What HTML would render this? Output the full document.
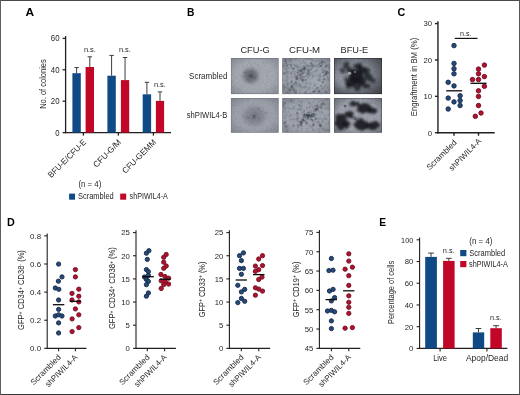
<!DOCTYPE html>
<html><head><meta charset="utf-8"><title>Figure</title>
<style>
html,body{margin:0;padding:0;background:#fff;}
body{width:520px;height:395px;overflow:hidden;}
svg{display:block;font-family:"Liberation Sans", sans-serif;}
</style></head><body>
<svg width="520" height="395" viewBox="0 0 520 395">
<rect x="0" y="0" width="520" height="395" fill="#ffffff"/>
<text x="25.4" y="16.1" font-size="11.8" text-anchor="start" fill="#000" textLength="8.6" lengthAdjust="spacingAndGlyphs" font-weight="bold">A</text>
<text x="186.9" y="16.2" font-size="11.8" text-anchor="start" fill="#000" textLength="7.4" lengthAdjust="spacingAndGlyphs" font-weight="bold">B</text>
<text x="397.4" y="16.3" font-size="11.8" text-anchor="start" fill="#000" textLength="7.8" lengthAdjust="spacingAndGlyphs" font-weight="bold">C</text>
<text x="6.9" y="226.1" font-size="11.8" text-anchor="start" fill="#000" textLength="7.8" lengthAdjust="spacingAndGlyphs" font-weight="bold">D</text>
<text x="379.3" y="226.1" font-size="11.8" text-anchor="start" fill="#000" textLength="6.8" lengthAdjust="spacingAndGlyphs" font-weight="bold">E</text>
<line x1="65.6" y1="35.99999999999999" x2="65.6" y2="133.25" stroke="#231f20" stroke-width="1.3"/>
<line x1="64.94999999999999" y1="132.6" x2="171" y2="132.6" stroke="#231f20" stroke-width="1.3"/>
<line x1="62.599999999999994" y1="38.39999999999999" x2="65.6" y2="38.39999999999999" stroke="#231f20" stroke-width="1.3"/>
<text x="59.49999999999999" y="41.39999999999999" font-size="8.4" text-anchor="end" fill="#231f20" textLength="8.7" lengthAdjust="spacingAndGlyphs">60</text>
<line x1="62.599999999999994" y1="69.79999999999998" x2="65.6" y2="69.79999999999998" stroke="#231f20" stroke-width="1.3"/>
<text x="59.49999999999999" y="72.79999999999998" font-size="8.4" text-anchor="end" fill="#231f20" textLength="8.7" lengthAdjust="spacingAndGlyphs">40</text>
<line x1="62.599999999999994" y1="101.19999999999999" x2="65.6" y2="101.19999999999999" stroke="#231f20" stroke-width="1.3"/>
<text x="59.49999999999999" y="104.19999999999999" font-size="8.4" text-anchor="end" fill="#231f20" textLength="8.7" lengthAdjust="spacingAndGlyphs">20</text>
<line x1="62.599999999999994" y1="132.6" x2="65.6" y2="132.6" stroke="#231f20" stroke-width="1.3"/>
<text x="59.49999999999999" y="135.6" font-size="8.4" text-anchor="end" fill="#231f20" textLength="4.3" lengthAdjust="spacingAndGlyphs">0</text>
<line x1="83.4" y1="132.6" x2="83.4" y2="135.6" stroke="#231f20" stroke-width="1.3"/>
<line x1="118.4" y1="132.6" x2="118.4" y2="135.6" stroke="#231f20" stroke-width="1.3"/>
<line x1="153.4" y1="132.6" x2="153.4" y2="135.6" stroke="#231f20" stroke-width="1.3"/>
<rect x="72.4" y="73.2" width="8.40" height="59.40" fill="#104a86"/>
<line x1="76.6" y1="67.6" x2="76.6" y2="73.2" stroke="#3c3c3c" stroke-width="1.0"/>
<line x1="74.39999999999999" y1="67.6" x2="78.8" y2="67.6" stroke="#3c3c3c" stroke-width="1.0"/>
<rect x="85.6" y="67.0" width="8.40" height="65.60" fill="#c10628"/>
<line x1="89.8" y1="56.8" x2="89.8" y2="67.0" stroke="#3c3c3c" stroke-width="1.0"/>
<line x1="87.6" y1="56.8" x2="92.0" y2="56.8" stroke="#3c3c3c" stroke-width="1.0"/>
<rect x="107.4" y="75.7" width="8.40" height="56.90" fill="#104a86"/>
<line x1="111.6" y1="55.4" x2="111.6" y2="75.7" stroke="#3c3c3c" stroke-width="1.0"/>
<line x1="109.39999999999999" y1="55.4" x2="113.8" y2="55.4" stroke="#3c3c3c" stroke-width="1.0"/>
<rect x="120.9" y="80.1" width="8.30" height="52.50" fill="#c10628"/>
<line x1="125.05" y1="57.5" x2="125.05" y2="80.1" stroke="#3c3c3c" stroke-width="1.0"/>
<line x1="122.85" y1="57.5" x2="127.25" y2="57.5" stroke="#3c3c3c" stroke-width="1.0"/>
<rect x="142.7" y="94.3" width="8.40" height="38.30" fill="#104a86"/>
<line x1="146.89999999999998" y1="82.3" x2="146.89999999999998" y2="94.3" stroke="#3c3c3c" stroke-width="1.0"/>
<line x1="144.7" y1="82.3" x2="149.09999999999997" y2="82.3" stroke="#3c3c3c" stroke-width="1.0"/>
<rect x="155.9" y="100.9" width="8.20" height="31.70" fill="#c10628"/>
<line x1="160.0" y1="91.9" x2="160.0" y2="100.9" stroke="#3c3c3c" stroke-width="1.0"/>
<line x1="157.8" y1="91.9" x2="162.2" y2="91.9" stroke="#3c3c3c" stroke-width="1.0"/>
<text x="89.9" y="52.0" font-size="7.6" text-anchor="middle" fill="#231f20" textLength="12" lengthAdjust="spacingAndGlyphs">n.s.</text>
<text x="124.9" y="52.3" font-size="7.6" text-anchor="middle" fill="#231f20" textLength="12" lengthAdjust="spacingAndGlyphs">n.s.</text>
<text x="159.9" y="86.9" font-size="7.6" text-anchor="middle" fill="#231f20" textLength="12" lengthAdjust="spacingAndGlyphs">n.s.</text>
<text x="46.1" y="84.0" font-size="9.2" text-anchor="middle" fill="#231f20" textLength="49.6" lengthAdjust="spacingAndGlyphs" transform="rotate(-90 46.1 84.0)">No. of colonies</text>
<text x="86.7" y="142.8" font-size="8.4" text-anchor="end" fill="#231f20" textLength="50" lengthAdjust="spacingAndGlyphs" transform="rotate(-45 86.7 142.8)">BFU-E/CFU-E</text>
<text x="121.7" y="142.8" font-size="8.4" text-anchor="end" fill="#231f20" textLength="35.5" lengthAdjust="spacingAndGlyphs" transform="rotate(-45 121.7 142.8)">CFU-G/M</text>
<text x="156.7" y="142.8" font-size="8.4" text-anchor="end" fill="#231f20" textLength="44" lengthAdjust="spacingAndGlyphs" transform="rotate(-45 156.7 142.8)">CFU-GEMM</text>
<text x="78.4" y="187.0" font-size="8.5" text-anchor="start" fill="#231f20" textLength="22.9" lengthAdjust="spacingAndGlyphs">(n = 4)</text>
<rect x="69.1" y="193.6" width="5.9" height="6.1" fill="#104a86"/>
<text x="78.0" y="199.4" font-size="8.6" text-anchor="start" fill="#231f20" textLength="35.7" lengthAdjust="spacingAndGlyphs">Scrambled</text>
<rect x="120.2" y="193.6" width="6.0" height="6.1" fill="#c10628"/>
<text x="129.6" y="199.4" font-size="8.6" text-anchor="start" fill="#231f20" textLength="38.2" lengthAdjust="spacingAndGlyphs">shPIWIL4-A</text>
<text x="255.1" y="52.9" font-size="9.2" text-anchor="middle" fill="#231f20" textLength="29.3" lengthAdjust="spacingAndGlyphs">CFU-G</text>
<text x="304.6" y="52.9" font-size="9.2" text-anchor="middle" fill="#231f20" textLength="31.1" lengthAdjust="spacingAndGlyphs">CFU-M</text>
<text x="354.3" y="52.9" font-size="9.2" text-anchor="middle" fill="#231f20" textLength="27.5" lengthAdjust="spacingAndGlyphs">BFU-E</text>
<text x="227.4" y="78.5" font-size="8.4" text-anchor="end" fill="#231f20" textLength="38.3" lengthAdjust="spacingAndGlyphs">Scrambled</text>
<text x="227.4" y="118.2" font-size="8.4" text-anchor="end" fill="#231f20" textLength="40.6" lengthAdjust="spacingAndGlyphs">shPIWIL4-B</text>
<defs>
<filter id="nz1" x="0" y="0" width="100%" height="100%" color-interpolation-filters="sRGB"><feTurbulence type="fractalNoise" baseFrequency="0.45" numOctaves="2" seed="4"/><feColorMatrix type="matrix" values="0 0 0 0 0.30  0 0 0 0 0.32  0 0 0 0 0.36  1.6 0 0 0 -0.62"/></filter>
<filter id="nz2" x="0" y="0" width="100%" height="100%" color-interpolation-filters="sRGB"><feTurbulence type="fractalNoise" baseFrequency="0.28" numOctaves="3" seed="11"/><feColorMatrix type="matrix" values="0 0 0 0 0.25  0 0 0 0 0.27  0 0 0 0 0.32  2.0 0 0 0 -0.88"/></filter>
<filter id="nz3" x="0" y="0" width="100%" height="100%" color-interpolation-filters="sRGB"><feTurbulence type="fractalNoise" baseFrequency="0.28" numOctaves="3" seed="23"/><feColorMatrix type="matrix" values="0 0 0 0 0.25  0 0 0 0 0.27  0 0 0 0 0.32  2.0 0 0 0 -0.92"/></filter>
<filter id="bl1" x="-30%" y="-30%" width="160%" height="160%"><feGaussianBlur stdDeviation="0.9"/></filter>
<filter id="bld" x="-20%" y="-20%" width="140%" height="140%"><feTurbulence type="fractalNoise" baseFrequency="0.22" numOctaves="2" seed="5" result="t"/><feDisplacementMap in="SourceGraphic" in2="t" scale="4.5" xChannelSelector="R" yChannelSelector="G"/><feGaussianBlur stdDeviation="1.0"/></filter>
<filter id="bl2" x="-30%" y="-30%" width="160%" height="160%"><feGaussianBlur stdDeviation="0.5"/></filter>
<filter id="bl3" x="-30%" y="-30%" width="160%" height="160%"><feGaussianBlur stdDeviation="2.2"/></filter>
<radialGradient id="vg" cx="0.5" cy="0.5" r="0.75"><stop offset="0.55" stop-color="#000" stop-opacity="0"/><stop offset="1" stop-color="#10131a" stop-opacity="0.42"/></radialGradient>
<radialGradient id="vgd" cx="0.42" cy="0.45" r="0.8"><stop offset="0.45" stop-color="#000" stop-opacity="0"/><stop offset="1" stop-color="#05070c" stop-opacity="0.6"/></radialGradient>
<radialGradient id="bg1" cx="0.5" cy="0.5" r="0.5"><stop offset="0" stop-color="#565a63" stop-opacity="0.95"/><stop offset="0.55" stop-color="#62666f" stop-opacity="0.7"/><stop offset="1" stop-color="#7a7e87" stop-opacity="0"/></radialGradient>
<radialGradient id="bg2" cx="0.5" cy="0.5" r="0.5"><stop offset="0" stop-color="#656a74" stop-opacity="0.7"/><stop offset="0.6" stop-color="#6c717b" stop-opacity="0.45"/><stop offset="1" stop-color="#7a7e87" stop-opacity="0"/></radialGradient>
<clipPath id="c00"><rect x="230.8" y="58.0" width="47.90" height="36.20"/></clipPath>
<clipPath id="c01"><rect x="230.8" y="98.1" width="47.90" height="34.70"/></clipPath>
<clipPath id="c10"><rect x="282.2" y="58.0" width="48.10" height="36.20"/></clipPath>
<clipPath id="c11"><rect x="282.2" y="98.1" width="48.10" height="34.70"/></clipPath>
<clipPath id="c20"><rect x="334.0" y="58.0" width="48.00" height="36.20"/></clipPath>
<clipPath id="c21"><rect x="334.0" y="98.1" width="48.00" height="34.70"/></clipPath>
</defs>
<g clip-path="url(#c00)">
<rect x="230.8" y="58.0" width="47.90" height="36.20" fill="#a4a8b1"/>
<rect x="230.8" y="58.0" width="47.90" height="36.20" fill="none" filter="url(#nz1)" opacity="0.18" style="fill:#000"/>
<ellipse cx="250.8" cy="75.8" rx="10.5" ry="10" fill="url(#bg1)"/>
<g filter="url(#bl2)">
<circle cx="249.3" cy="78.8" r="0.54" fill="#4a4e57" opacity="0.28"/>
<circle cx="247.7" cy="79.3" r="0.53" fill="#4a4e57" opacity="0.28"/>
<circle cx="252.2" cy="76.1" r="0.55" fill="#4a4e57" opacity="0.26"/>
<circle cx="251.1" cy="75.3" r="0.56" fill="#4a4e57" opacity="0.21"/>
<circle cx="247.3" cy="72.2" r="0.70" fill="#4a4e57" opacity="0.39"/>
<circle cx="252.4" cy="76.3" r="0.93" fill="#4a4e57" opacity="0.22"/>
<circle cx="252.4" cy="77.8" r="0.91" fill="#4a4e57" opacity="0.20"/>
<circle cx="248.8" cy="74.7" r="0.82" fill="#4a4e57" opacity="0.24"/>
<circle cx="249.6" cy="75.4" r="0.60" fill="#4a4e57" opacity="0.32"/>
<circle cx="250.3" cy="76.0" r="0.66" fill="#4a4e57" opacity="0.30"/>
<circle cx="248.7" cy="76.4" r="0.85" fill="#4a4e57" opacity="0.21"/>
<circle cx="244.8" cy="72.7" r="0.76" fill="#4a4e57" opacity="0.37"/>
<circle cx="250.5" cy="73.2" r="0.56" fill="#4a4e57" opacity="0.25"/>
<circle cx="251.3" cy="64.9" r="0.58" fill="#4a4e57" opacity="0.27"/>
<circle cx="254.0" cy="76.6" r="0.79" fill="#4a4e57" opacity="0.37"/>
<circle cx="248.5" cy="81.3" r="0.85" fill="#4a4e57" opacity="0.30"/>
<circle cx="244.3" cy="72.3" r="0.97" fill="#4a4e57" opacity="0.27"/>
<circle cx="249.7" cy="74.0" r="0.53" fill="#4a4e57" opacity="0.33"/>
<circle cx="246.3" cy="69.9" r="0.64" fill="#4a4e57" opacity="0.25"/>
<circle cx="250.6" cy="75.5" r="0.51" fill="#4a4e57" opacity="0.27"/>
<circle cx="251.3" cy="76.7" r="0.88" fill="#4a4e57" opacity="0.18"/>
<circle cx="250.8" cy="76.7" r="0.70" fill="#4a4e57" opacity="0.37"/>
<circle cx="255.0" cy="78.1" r="0.94" fill="#4a4e57" opacity="0.35"/>
<circle cx="251.8" cy="74.6" r="0.64" fill="#4a4e57" opacity="0.25"/>
<circle cx="246.1" cy="81.6" r="0.58" fill="#4a4e57" opacity="0.19"/>
<circle cx="251.6" cy="82.4" r="0.62" fill="#4a4e57" opacity="0.27"/>
<circle cx="250.8" cy="75.8" r="0.71" fill="#4a4e57" opacity="0.24"/>
<circle cx="250.5" cy="75.7" r="0.98" fill="#4a4e57" opacity="0.32"/>
<circle cx="246.4" cy="75.4" r="0.53" fill="#4a4e57" opacity="0.37"/>
<circle cx="251.6" cy="71.8" r="0.94" fill="#4a4e57" opacity="0.35"/>
<circle cx="249.6" cy="76.7" r="0.82" fill="#4a4e57" opacity="0.17"/>
<circle cx="251.8" cy="76.3" r="0.60" fill="#4a4e57" opacity="0.19"/>
<circle cx="250.8" cy="75.9" r="0.58" fill="#4a4e57" opacity="0.18"/>
<circle cx="250.8" cy="75.8" r="0.51" fill="#4a4e57" opacity="0.37"/>
<circle cx="249.4" cy="74.6" r="0.67" fill="#4a4e57" opacity="0.24"/>
<circle cx="252.6" cy="77.5" r="0.92" fill="#4a4e57" opacity="0.40"/>
<circle cx="249.2" cy="76.2" r="0.55" fill="#4a4e57" opacity="0.24"/>
<circle cx="250.8" cy="76.0" r="0.91" fill="#4a4e57" opacity="0.19"/>
<circle cx="255.4" cy="76.5" r="0.57" fill="#4a4e57" opacity="0.29"/>
<circle cx="252.3" cy="76.1" r="0.76" fill="#4a4e57" opacity="0.39"/>
</g>
<rect x="230.8" y="58.0" width="47.90" height="36.20" fill="url(#vg)" opacity="0.55"/>
<rect x="231.20000000000002" y="58.4" width="47.10" height="35.40" fill="none" stroke="#6f737c" stroke-width="0.8" opacity="0.8"/>
</g>
<g clip-path="url(#c01)">
<rect x="230.8" y="98.1" width="47.90" height="34.70" fill="#9da1ab"/>
<rect x="230.8" y="98.1" width="47.90" height="34.70" fill="none" filter="url(#nz1)" opacity="0.18" style="fill:#000"/>
<ellipse cx="254.5" cy="116.0" rx="14" ry="12" fill="url(#bg2)"/>
<g filter="url(#bl2)">
<circle cx="255.4" cy="115.1" r="0.65" fill="#4a4e57" opacity="0.16"/>
<circle cx="255.1" cy="112.6" r="0.71" fill="#4a4e57" opacity="0.30"/>
<circle cx="253.7" cy="117.3" r="0.89" fill="#4a4e57" opacity="0.32"/>
<circle cx="257.9" cy="108.1" r="0.83" fill="#4a4e57" opacity="0.29"/>
<circle cx="255.2" cy="120.3" r="0.51" fill="#4a4e57" opacity="0.13"/>
<circle cx="254.4" cy="116.5" r="0.60" fill="#4a4e57" opacity="0.28"/>
<circle cx="266.3" cy="113.2" r="0.90" fill="#4a4e57" opacity="0.34"/>
<circle cx="251.7" cy="118.7" r="0.59" fill="#4a4e57" opacity="0.17"/>
<circle cx="255.2" cy="117.7" r="0.86" fill="#4a4e57" opacity="0.31"/>
<circle cx="247.2" cy="116.8" r="0.76" fill="#4a4e57" opacity="0.30"/>
<circle cx="260.0" cy="118.8" r="0.81" fill="#4a4e57" opacity="0.29"/>
<circle cx="244.4" cy="117.2" r="0.57" fill="#4a4e57" opacity="0.30"/>
<circle cx="252.2" cy="119.4" r="0.66" fill="#4a4e57" opacity="0.21"/>
<circle cx="267.7" cy="112.1" r="0.79" fill="#4a4e57" opacity="0.16"/>
<circle cx="259.3" cy="120.2" r="0.82" fill="#4a4e57" opacity="0.15"/>
<circle cx="259.0" cy="108.7" r="0.89" fill="#4a4e57" opacity="0.27"/>
<circle cx="252.9" cy="117.9" r="0.51" fill="#4a4e57" opacity="0.34"/>
<circle cx="254.0" cy="115.4" r="0.71" fill="#4a4e57" opacity="0.33"/>
<circle cx="248.0" cy="118.4" r="0.58" fill="#4a4e57" opacity="0.18"/>
<circle cx="252.5" cy="122.1" r="0.60" fill="#4a4e57" opacity="0.25"/>
<circle cx="254.4" cy="118.2" r="0.86" fill="#4a4e57" opacity="0.20"/>
<circle cx="253.1" cy="116.3" r="0.73" fill="#4a4e57" opacity="0.33"/>
<circle cx="249.5" cy="118.3" r="0.71" fill="#4a4e57" opacity="0.24"/>
<circle cx="257.7" cy="116.3" r="0.68" fill="#4a4e57" opacity="0.16"/>
<circle cx="255.5" cy="116.0" r="0.69" fill="#4a4e57" opacity="0.29"/>
<circle cx="251.5" cy="115.0" r="0.63" fill="#4a4e57" opacity="0.24"/>
<circle cx="254.0" cy="115.8" r="0.72" fill="#4a4e57" opacity="0.18"/>
<circle cx="254.1" cy="118.1" r="0.81" fill="#4a4e57" opacity="0.24"/>
<circle cx="253.8" cy="115.8" r="0.68" fill="#4a4e57" opacity="0.26"/>
<circle cx="242.4" cy="115.6" r="0.70" fill="#4a4e57" opacity="0.28"/>
<circle cx="248.6" cy="117.5" r="0.88" fill="#4a4e57" opacity="0.28"/>
<circle cx="255.4" cy="115.2" r="0.88" fill="#4a4e57" opacity="0.18"/>
<circle cx="245.3" cy="112.9" r="0.55" fill="#4a4e57" opacity="0.15"/>
<circle cx="251.1" cy="117.1" r="0.53" fill="#4a4e57" opacity="0.18"/>
<circle cx="258.7" cy="117.8" r="0.86" fill="#4a4e57" opacity="0.16"/>
<circle cx="252.7" cy="109.0" r="0.76" fill="#4a4e57" opacity="0.15"/>
<circle cx="257.3" cy="113.8" r="0.88" fill="#4a4e57" opacity="0.21"/>
<circle cx="253.7" cy="116.1" r="0.90" fill="#4a4e57" opacity="0.31"/>
<circle cx="257.7" cy="120.3" r="0.64" fill="#4a4e57" opacity="0.17"/>
<circle cx="253.3" cy="118.1" r="0.79" fill="#4a4e57" opacity="0.12"/>
<circle cx="253.6" cy="115.7" r="0.63" fill="#4a4e57" opacity="0.26"/>
<circle cx="254.1" cy="116.0" r="0.53" fill="#4a4e57" opacity="0.35"/>
<circle cx="255.1" cy="113.9" r="0.61" fill="#4a4e57" opacity="0.13"/>
<circle cx="254.6" cy="115.6" r="0.61" fill="#4a4e57" opacity="0.15"/>
<circle cx="246.9" cy="119.4" r="0.60" fill="#4a4e57" opacity="0.15"/>
</g>
<rect x="230.8" y="98.1" width="47.90" height="34.70" fill="url(#vg)" opacity="0.55"/>
<rect x="231.20000000000002" y="98.5" width="47.10" height="33.90" fill="none" stroke="#6f737c" stroke-width="0.8" opacity="0.8"/>
</g>
<g clip-path="url(#c10)">
<rect x="282.2" y="58.0" width="48.10" height="36.20" fill="#9ca1ab"/>
<rect x="282.2" y="58.0" width="48.10" height="36.20" fill="none" filter="url(#nz2)" opacity="0.45" style="fill:#000"/>
<ellipse cx="316" cy="83" rx="7" ry="5" fill="#a9aeb7" opacity="0.6" filter="url(#bl3)"/>
<g filter="url(#bl2)">
<circle cx="295.4" cy="76.5" r="1.29" fill="#3d414b" opacity="0.30"/>
<circle cx="287.7" cy="92.4" r="0.76" fill="#3d414b" opacity="0.39"/>
<circle cx="293.2" cy="89.3" r="1.06" fill="#3d414b" opacity="0.45"/>
<circle cx="296.2" cy="83.0" r="0.67" fill="#3d414b" opacity="0.29"/>
<circle cx="295.8" cy="83.1" r="1.17" fill="#3d414b" opacity="0.40"/>
<circle cx="294.0" cy="83.9" r="1.24" fill="#3d414b" opacity="0.16"/>
<circle cx="299.2" cy="78.8" r="0.81" fill="#3d414b" opacity="0.19"/>
<circle cx="294.2" cy="84.2" r="0.73" fill="#3d414b" opacity="0.44"/>
<circle cx="290.5" cy="90.0" r="1.01" fill="#3d414b" opacity="0.43"/>
<circle cx="291.5" cy="85.9" r="0.86" fill="#3d414b" opacity="0.41"/>
<circle cx="293.8" cy="86.1" r="0.91" fill="#3d414b" opacity="0.23"/>
<circle cx="291.5" cy="87.8" r="1.14" fill="#3d414b" opacity="0.43"/>
<circle cx="288.3" cy="90.6" r="0.67" fill="#3d414b" opacity="0.33"/>
<circle cx="287.6" cy="84.4" r="1.03" fill="#3d414b" opacity="0.22"/>
<circle cx="289.7" cy="90.4" r="0.86" fill="#3d414b" opacity="0.19"/>
<circle cx="291.2" cy="85.5" r="0.74" fill="#3d414b" opacity="0.23"/>
<circle cx="291.5" cy="82.5" r="1.02" fill="#3d414b" opacity="0.35"/>
<circle cx="286.7" cy="87.9" r="0.74" fill="#3d414b" opacity="0.15"/>
<circle cx="291.9" cy="81.4" r="0.83" fill="#3d414b" opacity="0.35"/>
<circle cx="289.5" cy="90.8" r="0.73" fill="#3d414b" opacity="0.24"/>
<circle cx="295.9" cy="81.3" r="0.74" fill="#3d414b" opacity="0.39"/>
<circle cx="289.9" cy="91.9" r="0.98" fill="#3d414b" opacity="0.17"/>
<circle cx="291.6" cy="82.0" r="0.67" fill="#3d414b" opacity="0.27"/>
<circle cx="292.2" cy="86.2" r="0.99" fill="#3d414b" opacity="0.34"/>
<circle cx="292.7" cy="84.8" r="0.66" fill="#3d414b" opacity="0.20"/>
<circle cx="302.3" cy="77.1" r="1.09" fill="#3d414b" opacity="0.27"/>
<circle cx="297.3" cy="77.8" r="0.80" fill="#3d414b" opacity="0.24"/>
<circle cx="289.6" cy="89.5" r="1.27" fill="#3d414b" opacity="0.24"/>
<circle cx="303.6" cy="72.7" r="1.00" fill="#3d414b" opacity="0.26"/>
<circle cx="300.3" cy="77.9" r="0.89" fill="#3d414b" opacity="0.41"/>
<circle cx="302.1" cy="73.6" r="1.30" fill="#3d414b" opacity="0.26"/>
<circle cx="300.5" cy="74.6" r="0.74" fill="#3d414b" opacity="0.37"/>
<circle cx="304.9" cy="71.7" r="0.74" fill="#3d414b" opacity="0.15"/>
<circle cx="300.8" cy="70.8" r="1.23" fill="#3d414b" opacity="0.28"/>
<circle cx="299.2" cy="75.2" r="1.17" fill="#3d414b" opacity="0.27"/>
<circle cx="303.7" cy="68.9" r="1.22" fill="#3d414b" opacity="0.29"/>
<circle cx="304.2" cy="70.2" r="0.71" fill="#3d414b" opacity="0.15"/>
<circle cx="302.1" cy="69.6" r="0.99" fill="#3d414b" opacity="0.34"/>
<circle cx="301.2" cy="67.9" r="1.24" fill="#3d414b" opacity="0.18"/>
<circle cx="304.3" cy="69.6" r="1.04" fill="#3d414b" opacity="0.26"/>
<circle cx="302.8" cy="66.0" r="0.95" fill="#3d414b" opacity="0.19"/>
<circle cx="297.0" cy="76.3" r="0.80" fill="#3d414b" opacity="0.31"/>
<circle cx="301.1" cy="76.7" r="1.25" fill="#3d414b" opacity="0.18"/>
<circle cx="304.8" cy="69.3" r="0.94" fill="#3d414b" opacity="0.39"/>
<circle cx="301.4" cy="69.7" r="1.28" fill="#3d414b" opacity="0.21"/>
<circle cx="304.4" cy="68.4" r="0.69" fill="#3d414b" opacity="0.43"/>
<circle cx="299.9" cy="71.2" r="1.28" fill="#3d414b" opacity="0.29"/>
<circle cx="303.3" cy="69.1" r="0.64" fill="#3d414b" opacity="0.43"/>
<circle cx="300.9" cy="74.6" r="0.87" fill="#3d414b" opacity="0.42"/>
<circle cx="302.6" cy="71.4" r="1.03" fill="#3d414b" opacity="0.40"/>
<circle cx="300.7" cy="70.4" r="0.71" fill="#3d414b" opacity="0.39"/>
<circle cx="304.5" cy="66.7" r="0.76" fill="#3d414b" opacity="0.27"/>
<circle cx="296.7" cy="78.0" r="1.19" fill="#3d414b" opacity="0.40"/>
<circle cx="305.2" cy="68.2" r="0.73" fill="#3d414b" opacity="0.22"/>
<circle cx="300.5" cy="79.3" r="0.88" fill="#3d414b" opacity="0.31"/>
<circle cx="304.0" cy="68.9" r="0.87" fill="#3d414b" opacity="0.19"/>
<circle cx="297.5" cy="72.3" r="0.77" fill="#3d414b" opacity="0.37"/>
<circle cx="301.5" cy="75.5" r="1.23" fill="#3d414b" opacity="0.16"/>
<circle cx="311.0" cy="69.4" r="0.99" fill="#3d414b" opacity="0.38"/>
<circle cx="305.6" cy="62.7" r="0.63" fill="#3d414b" opacity="0.40"/>
<circle cx="318.5" cy="60.8" r="0.68" fill="#3d414b" opacity="0.33"/>
<circle cx="309.0" cy="66.3" r="0.99" fill="#3d414b" opacity="0.34"/>
<circle cx="312.6" cy="65.1" r="0.81" fill="#3d414b" opacity="0.28"/>
<circle cx="319.1" cy="64.4" r="1.01" fill="#3d414b" opacity="0.28"/>
<circle cx="314.6" cy="66.1" r="1.06" fill="#3d414b" opacity="0.28"/>
<circle cx="306.9" cy="66.7" r="0.91" fill="#3d414b" opacity="0.16"/>
<circle cx="305.1" cy="68.0" r="1.03" fill="#3d414b" opacity="0.30"/>
<circle cx="311.5" cy="63.9" r="0.76" fill="#3d414b" opacity="0.38"/>
<circle cx="311.1" cy="63.2" r="1.15" fill="#3d414b" opacity="0.29"/>
<circle cx="309.2" cy="66.0" r="0.73" fill="#3d414b" opacity="0.29"/>
<circle cx="304.0" cy="68.1" r="0.67" fill="#3d414b" opacity="0.19"/>
<circle cx="315.5" cy="62.0" r="0.90" fill="#3d414b" opacity="0.18"/>
<circle cx="312.4" cy="66.8" r="0.91" fill="#3d414b" opacity="0.30"/>
<circle cx="310.3" cy="63.3" r="0.63" fill="#3d414b" opacity="0.34"/>
<circle cx="307.2" cy="68.5" r="0.66" fill="#3d414b" opacity="0.37"/>
<circle cx="311.5" cy="66.1" r="1.14" fill="#3d414b" opacity="0.30"/>
<circle cx="304.7" cy="76.9" r="0.64" fill="#3d414b" opacity="0.30"/>
<circle cx="305.9" cy="80.0" r="0.86" fill="#3d414b" opacity="0.44"/>
<circle cx="308.6" cy="71.2" r="0.70" fill="#3d414b" opacity="0.41"/>
<circle cx="308.1" cy="70.2" r="1.30" fill="#3d414b" opacity="0.37"/>
<circle cx="302.7" cy="79.4" r="1.17" fill="#3d414b" opacity="0.21"/>
<circle cx="307.4" cy="73.2" r="1.29" fill="#3d414b" opacity="0.30"/>
<circle cx="302.4" cy="80.3" r="1.27" fill="#3d414b" opacity="0.42"/>
<circle cx="306.4" cy="75.5" r="0.72" fill="#3d414b" opacity="0.39"/>
<circle cx="310.0" cy="75.2" r="1.25" fill="#3d414b" opacity="0.17"/>
<circle cx="308.1" cy="74.2" r="0.85" fill="#3d414b" opacity="0.38"/>
<circle cx="308.0" cy="77.3" r="0.71" fill="#3d414b" opacity="0.42"/>
<circle cx="305.4" cy="79.8" r="0.79" fill="#3d414b" opacity="0.39"/>
<circle cx="303.8" cy="82.4" r="0.70" fill="#3d414b" opacity="0.30"/>
<circle cx="303.8" cy="77.0" r="1.24" fill="#3d414b" opacity="0.21"/>
<circle cx="321.8" cy="62.7" r="0.78" fill="#3d414b" opacity="0.30"/>
<circle cx="322.7" cy="65.2" r="0.82" fill="#3d414b" opacity="0.16"/>
<circle cx="330.0" cy="74.4" r="0.73" fill="#3d414b" opacity="0.20"/>
<circle cx="321.0" cy="65.7" r="1.26" fill="#3d414b" opacity="0.35"/>
<circle cx="322.4" cy="68.4" r="1.23" fill="#3d414b" opacity="0.20"/>
<circle cx="328.4" cy="77.4" r="1.15" fill="#3d414b" opacity="0.18"/>
<circle cx="326.9" cy="71.8" r="0.97" fill="#3d414b" opacity="0.34"/>
<circle cx="321.0" cy="65.8" r="0.85" fill="#3d414b" opacity="0.41"/>
<circle cx="325.8" cy="72.3" r="0.99" fill="#3d414b" opacity="0.32"/>
<circle cx="325.8" cy="74.8" r="1.22" fill="#3d414b" opacity="0.18"/>
<circle cx="325.8" cy="73.9" r="1.30" fill="#3d414b" opacity="0.34"/>
<circle cx="323.2" cy="72.4" r="0.88" fill="#3d414b" opacity="0.39"/>
<circle cx="327.4" cy="77.0" r="0.79" fill="#3d414b" opacity="0.45"/>
<circle cx="323.9" cy="75.6" r="1.00" fill="#3d414b" opacity="0.26"/>
<circle cx="322.3" cy="60.9" r="1.14" fill="#3d414b" opacity="0.28"/>
<circle cx="327.1" cy="74.6" r="0.72" fill="#3d414b" opacity="0.37"/>
<circle cx="323.0" cy="70.0" r="0.63" fill="#3d414b" opacity="0.40"/>
<circle cx="321.1" cy="62.9" r="0.78" fill="#3d414b" opacity="0.34"/>
<circle cx="325.8" cy="73.7" r="1.29" fill="#3d414b" opacity="0.33"/>
<circle cx="319.5" cy="63.8" r="1.06" fill="#3d414b" opacity="0.24"/>
<circle cx="328.7" cy="72.4" r="0.60" fill="#3d414b" opacity="0.16"/>
<circle cx="324.7" cy="67.5" r="0.70" fill="#3d414b" opacity="0.33"/>
<circle cx="286.2" cy="63.5" r="0.90" fill="#3d414b" opacity="0.30"/>
<circle cx="288.1" cy="58.3" r="1.23" fill="#3d414b" opacity="0.19"/>
<circle cx="293.6" cy="69.3" r="0.76" fill="#3d414b" opacity="0.35"/>
<circle cx="285.7" cy="64.0" r="0.62" fill="#3d414b" opacity="0.15"/>
<circle cx="299.1" cy="67.5" r="0.85" fill="#3d414b" opacity="0.18"/>
<circle cx="291.0" cy="64.8" r="0.85" fill="#3d414b" opacity="0.22"/>
<circle cx="285.5" cy="61.2" r="1.01" fill="#3d414b" opacity="0.33"/>
<circle cx="282.6" cy="66.0" r="0.74" fill="#3d414b" opacity="0.34"/>
<circle cx="290.1" cy="64.7" r="0.93" fill="#3d414b" opacity="0.19"/>
<circle cx="292.3" cy="68.2" r="1.26" fill="#3d414b" opacity="0.22"/>
<circle cx="284.3" cy="65.8" r="0.70" fill="#3d414b" opacity="0.18"/>
<circle cx="293.6" cy="68.8" r="1.05" fill="#3d414b" opacity="0.41"/>
<circle cx="295.1" cy="66.4" r="1.15" fill="#3d414b" opacity="0.27"/>
<circle cx="296.4" cy="66.6" r="0.78" fill="#3d414b" opacity="0.15"/>
<circle cx="316.5" cy="89.0" r="1.05" fill="#3d414b" opacity="0.32"/>
<circle cx="307.5" cy="89.5" r="0.85" fill="#3d414b" opacity="0.34"/>
<circle cx="326.2" cy="92.3" r="0.91" fill="#3d414b" opacity="0.43"/>
<circle cx="309.5" cy="87.6" r="1.11" fill="#3d414b" opacity="0.22"/>
<circle cx="325.9" cy="91.2" r="1.23" fill="#3d414b" opacity="0.16"/>
<circle cx="319.6" cy="91.4" r="0.97" fill="#3d414b" opacity="0.27"/>
<circle cx="325.7" cy="91.9" r="0.77" fill="#3d414b" opacity="0.17"/>
<circle cx="319.6" cy="90.3" r="1.15" fill="#3d414b" opacity="0.15"/>
<circle cx="315.0" cy="90.7" r="0.99" fill="#3d414b" opacity="0.43"/>
<circle cx="313.1" cy="88.3" r="0.70" fill="#3d414b" opacity="0.21"/>
<circle cx="313.2" cy="91.2" r="1.03" fill="#3d414b" opacity="0.30"/>
<circle cx="314.2" cy="91.9" r="1.05" fill="#3d414b" opacity="0.39"/>
<circle cx="303.3" cy="60.7" r="0.72" fill="#3d414b" opacity="0.24"/>
<circle cx="305.3" cy="72.0" r="0.81" fill="#3d414b" opacity="0.16"/>
<circle cx="326.2" cy="65.8" r="1.22" fill="#3d414b" opacity="0.38"/>
<circle cx="300.1" cy="90.4" r="1.10" fill="#3d414b" opacity="0.15"/>
<circle cx="284.4" cy="73.4" r="1.19" fill="#3d414b" opacity="0.37"/>
<circle cx="321.2" cy="85.8" r="0.93" fill="#3d414b" opacity="0.37"/>
<circle cx="284.9" cy="60.2" r="0.92" fill="#3d414b" opacity="0.22"/>
<circle cx="285.9" cy="91.2" r="0.67" fill="#3d414b" opacity="0.22"/>
<circle cx="295.1" cy="85.2" r="0.63" fill="#3d414b" opacity="0.25"/>
<circle cx="325.2" cy="70.9" r="1.12" fill="#3d414b" opacity="0.36"/>
<circle cx="295.8" cy="92.5" r="1.19" fill="#3d414b" opacity="0.36"/>
<circle cx="312.0" cy="68.2" r="0.79" fill="#3d414b" opacity="0.32"/>
<circle cx="316.7" cy="70.1" r="0.91" fill="#3d414b" opacity="0.39"/>
<circle cx="296.0" cy="59.1" r="0.97" fill="#3d414b" opacity="0.23"/>
<circle cx="318.5" cy="91.1" r="1.05" fill="#3d414b" opacity="0.44"/>
<circle cx="312.8" cy="92.0" r="0.75" fill="#3d414b" opacity="0.41"/>
<circle cx="284.1" cy="67.2" r="0.61" fill="#3d414b" opacity="0.23"/>
<circle cx="305.3" cy="92.5" r="0.77" fill="#3d414b" opacity="0.37"/>
<circle cx="327.8" cy="72.5" r="1.26" fill="#3d414b" opacity="0.37"/>
<circle cx="294.8" cy="74.0" r="0.83" fill="#3d414b" opacity="0.41"/>
<circle cx="306.2" cy="91.5" r="0.83" fill="#3d414b" opacity="0.22"/>
<circle cx="291.6" cy="87.1" r="1.24" fill="#3d414b" opacity="0.34"/>
<circle cx="317.7" cy="87.8" r="1.08" fill="#3d414b" opacity="0.35"/>
<circle cx="319.3" cy="80.3" r="1.29" fill="#3d414b" opacity="0.29"/>
<circle cx="298.4" cy="70.2" r="1.19" fill="#3d414b" opacity="0.36"/>
<circle cx="300.0" cy="86.4" r="1.20" fill="#3d414b" opacity="0.28"/>
<circle cx="286.7" cy="65.9" r="1.11" fill="#3d414b" opacity="0.32"/>
<circle cx="318.4" cy="67.7" r="0.82" fill="#3d414b" opacity="0.21"/>
<circle cx="286.0" cy="60.2" r="1.04" fill="#3d414b" opacity="0.17"/>
<circle cx="309.0" cy="70.4" r="1.24" fill="#3d414b" opacity="0.19"/>
<circle cx="329.1" cy="89.9" r="0.62" fill="#3d414b" opacity="0.18"/>
<circle cx="329.4" cy="68.3" r="1.25" fill="#3d414b" opacity="0.25"/>
<circle cx="287.0" cy="62.4" r="0.70" fill="#3d414b" opacity="0.16"/>
<circle cx="306.4" cy="83.8" r="0.63" fill="#3d414b" opacity="0.36"/>
<circle cx="304.0" cy="67.2" r="1.04" fill="#3d414b" opacity="0.36"/>
<circle cx="302.6" cy="80.7" r="1.12" fill="#3d414b" opacity="0.17"/>
<circle cx="314.7" cy="85.2" r="1.01" fill="#3d414b" opacity="0.26"/>
<circle cx="322.8" cy="82.3" r="1.17" fill="#3d414b" opacity="0.40"/>
<circle cx="288.7" cy="88.4" r="1.22" fill="#3d414b" opacity="0.17"/>
<circle cx="296.8" cy="78.8" r="1.21" fill="#3d414b" opacity="0.42"/>
<circle cx="300.5" cy="84.8" r="1.26" fill="#3d414b" opacity="0.18"/>
<circle cx="292.4" cy="67.7" r="0.74" fill="#3d414b" opacity="0.18"/>
<circle cx="294.5" cy="64.4" r="0.62" fill="#3d414b" opacity="0.40"/>
<circle cx="324.6" cy="79.2" r="1.17" fill="#3d414b" opacity="0.34"/>
<circle cx="298.3" cy="72.9" r="1.18" fill="#3d414b" opacity="0.34"/>
</g>
<rect x="282.2" y="58.0" width="48.10" height="36.20" fill="url(#vg)" opacity="0.6"/>
<rect x="282.59999999999997" y="58.4" width="47.30" height="35.40" fill="none" stroke="#6f737c" stroke-width="0.8" opacity="0.8"/>
</g>
<g clip-path="url(#c11)">
<rect x="282.2" y="98.1" width="48.10" height="34.70" fill="#9da2ac"/>
<rect x="282.2" y="98.1" width="48.10" height="34.70" fill="none" filter="url(#nz3)" opacity="0.4" style="fill:#000"/>
<g filter="url(#bl2)">
<circle cx="301.4" cy="120.6" r="1.17" fill="#393d47" opacity="0.32"/>
<circle cx="316.8" cy="109.2" r="1.24" fill="#393d47" opacity="0.28"/>
<circle cx="308.6" cy="117.9" r="0.61" fill="#393d47" opacity="0.27"/>
<circle cx="303.8" cy="119.9" r="1.01" fill="#393d47" opacity="0.43"/>
<circle cx="303.4" cy="120.9" r="1.29" fill="#393d47" opacity="0.29"/>
<circle cx="318.6" cy="106.3" r="0.89" fill="#393d47" opacity="0.18"/>
<circle cx="306.9" cy="114.9" r="1.05" fill="#393d47" opacity="0.21"/>
<circle cx="306.3" cy="118.2" r="0.71" fill="#393d47" opacity="0.15"/>
<circle cx="300.2" cy="122.2" r="0.60" fill="#393d47" opacity="0.36"/>
<circle cx="317.7" cy="107.4" r="0.69" fill="#393d47" opacity="0.44"/>
<circle cx="301.5" cy="122.4" r="0.66" fill="#393d47" opacity="0.41"/>
<circle cx="292.3" cy="125.3" r="0.69" fill="#393d47" opacity="0.16"/>
<circle cx="317.6" cy="108.5" r="1.10" fill="#393d47" opacity="0.22"/>
<circle cx="306.9" cy="119.2" r="1.11" fill="#393d47" opacity="0.21"/>
<circle cx="320.5" cy="104.1" r="0.64" fill="#393d47" opacity="0.38"/>
<circle cx="315.8" cy="109.5" r="1.10" fill="#393d47" opacity="0.41"/>
<circle cx="313.2" cy="113.9" r="1.11" fill="#393d47" opacity="0.18"/>
<circle cx="316.0" cy="110.7" r="1.04" fill="#393d47" opacity="0.36"/>
<circle cx="303.7" cy="117.3" r="0.92" fill="#393d47" opacity="0.43"/>
<circle cx="320.9" cy="108.1" r="0.78" fill="#393d47" opacity="0.44"/>
<circle cx="298.2" cy="126.7" r="1.10" fill="#393d47" opacity="0.15"/>
<circle cx="321.4" cy="104.0" r="0.61" fill="#393d47" opacity="0.35"/>
<circle cx="319.9" cy="105.9" r="1.17" fill="#393d47" opacity="0.17"/>
<circle cx="311.9" cy="114.3" r="0.82" fill="#393d47" opacity="0.37"/>
<circle cx="311.1" cy="110.8" r="0.72" fill="#393d47" opacity="0.41"/>
<circle cx="301.2" cy="124.4" r="0.94" fill="#393d47" opacity="0.17"/>
<circle cx="314.3" cy="109.9" r="0.86" fill="#393d47" opacity="0.32"/>
<circle cx="318.2" cy="107.8" r="0.91" fill="#393d47" opacity="0.35"/>
<circle cx="308.1" cy="116.7" r="0.70" fill="#393d47" opacity="0.39"/>
<circle cx="300.5" cy="121.7" r="0.85" fill="#393d47" opacity="0.34"/>
<circle cx="320.8" cy="107.2" r="1.04" fill="#393d47" opacity="0.28"/>
<circle cx="303.4" cy="120.3" r="0.87" fill="#393d47" opacity="0.39"/>
<circle cx="301.9" cy="122.7" r="1.26" fill="#393d47" opacity="0.39"/>
<circle cx="323.1" cy="103.5" r="1.00" fill="#393d47" opacity="0.24"/>
<circle cx="321.3" cy="105.0" r="0.64" fill="#393d47" opacity="0.44"/>
<circle cx="323.4" cy="104.0" r="1.09" fill="#393d47" opacity="0.40"/>
<circle cx="305.6" cy="117.2" r="0.83" fill="#393d47" opacity="0.33"/>
<circle cx="300.8" cy="124.8" r="1.28" fill="#393d47" opacity="0.40"/>
<circle cx="298.3" cy="124.2" r="1.02" fill="#393d47" opacity="0.24"/>
<circle cx="316.2" cy="108.4" r="0.90" fill="#393d47" opacity="0.42"/>
<circle cx="308.5" cy="117.1" r="0.86" fill="#393d47" opacity="0.36"/>
<circle cx="308.4" cy="117.1" r="1.02" fill="#393d47" opacity="0.42"/>
<circle cx="304.6" cy="114.6" r="1.17" fill="#393d47" opacity="0.23"/>
<circle cx="306.3" cy="117.2" r="0.60" fill="#393d47" opacity="0.23"/>
<circle cx="322.0" cy="106.2" r="0.90" fill="#393d47" opacity="0.33"/>
<circle cx="316.9" cy="105.7" r="1.17" fill="#393d47" opacity="0.42"/>
<circle cx="306.4" cy="115.3" r="0.63" fill="#393d47" opacity="0.40"/>
<circle cx="300.5" cy="122.5" r="1.17" fill="#393d47" opacity="0.41"/>
<circle cx="316.4" cy="109.2" r="1.00" fill="#393d47" opacity="0.23"/>
<circle cx="306.7" cy="115.0" r="1.20" fill="#393d47" opacity="0.39"/>
<circle cx="307.6" cy="115.7" r="1.08" fill="#393d47" opacity="0.42"/>
<circle cx="298.1" cy="121.2" r="0.84" fill="#393d47" opacity="0.18"/>
<circle cx="304.5" cy="113.9" r="0.99" fill="#393d47" opacity="0.39"/>
<circle cx="297.3" cy="125.3" r="0.74" fill="#393d47" opacity="0.38"/>
<circle cx="316.9" cy="109.8" r="1.25" fill="#393d47" opacity="0.22"/>
<circle cx="304.2" cy="111.0" r="1.02" fill="#393d47" opacity="0.35"/>
<circle cx="315.1" cy="119.8" r="0.93" fill="#393d47" opacity="0.21"/>
<circle cx="317.8" cy="122.0" r="0.78" fill="#393d47" opacity="0.38"/>
<circle cx="319.9" cy="125.7" r="1.15" fill="#393d47" opacity="0.29"/>
<circle cx="312.1" cy="116.9" r="0.66" fill="#393d47" opacity="0.39"/>
<circle cx="320.0" cy="125.5" r="1.14" fill="#393d47" opacity="0.22"/>
<circle cx="308.3" cy="114.9" r="1.01" fill="#393d47" opacity="0.42"/>
<circle cx="310.7" cy="115.4" r="1.22" fill="#393d47" opacity="0.31"/>
<circle cx="310.4" cy="116.2" r="0.93" fill="#393d47" opacity="0.33"/>
<circle cx="317.3" cy="123.7" r="0.73" fill="#393d47" opacity="0.21"/>
<circle cx="306.3" cy="114.7" r="0.73" fill="#393d47" opacity="0.36"/>
<circle cx="305.5" cy="115.8" r="0.85" fill="#393d47" opacity="0.32"/>
<circle cx="319.3" cy="122.1" r="0.88" fill="#393d47" opacity="0.31"/>
<circle cx="311.9" cy="120.0" r="0.70" fill="#393d47" opacity="0.16"/>
<circle cx="312.9" cy="114.6" r="1.30" fill="#393d47" opacity="0.26"/>
<circle cx="315.7" cy="122.1" r="0.67" fill="#393d47" opacity="0.34"/>
<circle cx="313.1" cy="121.1" r="1.15" fill="#393d47" opacity="0.20"/>
<circle cx="311.3" cy="117.0" r="1.02" fill="#393d47" opacity="0.25"/>
<circle cx="308.9" cy="116.6" r="0.96" fill="#393d47" opacity="0.16"/>
<circle cx="307.8" cy="116.0" r="0.62" fill="#393d47" opacity="0.45"/>
<circle cx="308.1" cy="115.3" r="1.21" fill="#393d47" opacity="0.30"/>
<circle cx="312.8" cy="116.4" r="1.00" fill="#393d47" opacity="0.23"/>
<circle cx="315.7" cy="118.8" r="1.15" fill="#393d47" opacity="0.28"/>
<circle cx="320.8" cy="126.3" r="1.26" fill="#393d47" opacity="0.38"/>
<circle cx="320.2" cy="124.8" r="1.17" fill="#393d47" opacity="0.44"/>
<circle cx="317.2" cy="123.3" r="0.78" fill="#393d47" opacity="0.16"/>
<circle cx="303.0" cy="113.1" r="0.74" fill="#393d47" opacity="0.20"/>
<circle cx="306.9" cy="115.4" r="0.66" fill="#393d47" opacity="0.17"/>
<circle cx="307.7" cy="114.7" r="0.99" fill="#393d47" opacity="0.41"/>
<circle cx="304.5" cy="115.3" r="0.92" fill="#393d47" opacity="0.43"/>
<circle cx="305.3" cy="120.9" r="1.24" fill="#393d47" opacity="0.17"/>
<circle cx="314.4" cy="114.2" r="1.02" fill="#393d47" opacity="0.27"/>
<circle cx="305.0" cy="115.1" r="0.68" fill="#393d47" opacity="0.44"/>
<circle cx="302.6" cy="119.3" r="0.78" fill="#393d47" opacity="0.32"/>
<circle cx="302.6" cy="119.4" r="1.05" fill="#393d47" opacity="0.44"/>
<circle cx="313.2" cy="113.5" r="1.07" fill="#393d47" opacity="0.27"/>
<circle cx="307.5" cy="112.6" r="0.91" fill="#393d47" opacity="0.20"/>
<circle cx="311.0" cy="115.9" r="1.28" fill="#393d47" opacity="0.45"/>
<circle cx="307.6" cy="118.2" r="0.76" fill="#393d47" opacity="0.16"/>
<circle cx="310.2" cy="117.0" r="0.78" fill="#393d47" opacity="0.26"/>
<circle cx="308.5" cy="116.5" r="1.23" fill="#393d47" opacity="0.42"/>
<circle cx="308.9" cy="114.7" r="1.19" fill="#393d47" opacity="0.16"/>
<circle cx="308.7" cy="112.6" r="1.15" fill="#393d47" opacity="0.36"/>
<circle cx="306.9" cy="123.4" r="1.05" fill="#393d47" opacity="0.45"/>
<circle cx="308.8" cy="114.5" r="0.64" fill="#393d47" opacity="0.19"/>
<circle cx="309.3" cy="115.3" r="1.13" fill="#393d47" opacity="0.43"/>
<circle cx="303.2" cy="115.9" r="1.07" fill="#393d47" opacity="0.24"/>
<circle cx="310.9" cy="119.1" r="1.01" fill="#393d47" opacity="0.38"/>
<circle cx="308.2" cy="115.4" r="0.67" fill="#393d47" opacity="0.25"/>
<circle cx="305.0" cy="121.8" r="0.78" fill="#393d47" opacity="0.19"/>
<circle cx="309.3" cy="115.3" r="0.94" fill="#393d47" opacity="0.20"/>
<circle cx="301.7" cy="114.2" r="0.77" fill="#393d47" opacity="0.19"/>
<circle cx="316.4" cy="114.8" r="1.07" fill="#393d47" opacity="0.15"/>
<circle cx="308.3" cy="118.6" r="1.10" fill="#393d47" opacity="0.21"/>
<circle cx="308.0" cy="117.2" r="0.63" fill="#393d47" opacity="0.43"/>
<circle cx="304.1" cy="115.1" r="0.75" fill="#393d47" opacity="0.43"/>
<circle cx="313.9" cy="115.9" r="1.21" fill="#393d47" opacity="0.42"/>
<circle cx="311.2" cy="113.3" r="0.70" fill="#393d47" opacity="0.28"/>
<circle cx="307.6" cy="118.7" r="0.67" fill="#393d47" opacity="0.43"/>
<circle cx="311.8" cy="114.9" r="1.19" fill="#393d47" opacity="0.34"/>
<circle cx="294.2" cy="102.6" r="0.92" fill="#393d47" opacity="0.25"/>
<circle cx="299.0" cy="105.0" r="1.18" fill="#393d47" opacity="0.29"/>
<circle cx="300.5" cy="106.0" r="1.04" fill="#393d47" opacity="0.19"/>
<circle cx="307.0" cy="100.5" r="0.76" fill="#393d47" opacity="0.17"/>
<circle cx="309.0" cy="103.0" r="1.10" fill="#393d47" opacity="0.32"/>
<circle cx="288.0" cy="112.0" r="0.70" fill="#393d47" opacity="0.41"/>
<circle cx="325.0" cy="119.0" r="0.79" fill="#393d47" opacity="0.27"/>
<circle cx="318.0" cy="129.0" r="0.71" fill="#393d47" opacity="0.23"/>
<circle cx="286.0" cy="126.0" r="1.19" fill="#393d47" opacity="0.25"/>
<circle cx="321.9" cy="108.7" r="0.72" fill="#393d47" opacity="0.30"/>
<circle cx="321.9" cy="112.3" r="0.82" fill="#393d47" opacity="0.42"/>
<circle cx="306.7" cy="108.0" r="0.68" fill="#393d47" opacity="0.44"/>
<circle cx="306.8" cy="131.2" r="0.64" fill="#393d47" opacity="0.42"/>
<circle cx="313.8" cy="125.1" r="1.07" fill="#393d47" opacity="0.21"/>
<circle cx="298.6" cy="109.5" r="0.93" fill="#393d47" opacity="0.24"/>
<circle cx="297.1" cy="118.4" r="0.78" fill="#393d47" opacity="0.21"/>
<circle cx="312.8" cy="124.9" r="0.85" fill="#393d47" opacity="0.45"/>
<circle cx="284.9" cy="122.8" r="1.30" fill="#393d47" opacity="0.43"/>
<circle cx="324.6" cy="117.0" r="0.67" fill="#393d47" opacity="0.24"/>
<circle cx="285.3" cy="108.9" r="1.23" fill="#393d47" opacity="0.17"/>
<circle cx="283.3" cy="105.3" r="1.11" fill="#393d47" opacity="0.24"/>
<circle cx="326.3" cy="119.1" r="1.29" fill="#393d47" opacity="0.15"/>
<circle cx="313.9" cy="125.0" r="1.16" fill="#393d47" opacity="0.25"/>
<circle cx="325.8" cy="119.2" r="0.70" fill="#393d47" opacity="0.15"/>
<circle cx="312.0" cy="119.7" r="1.18" fill="#393d47" opacity="0.31"/>
<circle cx="315.7" cy="118.7" r="0.73" fill="#393d47" opacity="0.28"/>
<circle cx="315.0" cy="106.0" r="1.24" fill="#393d47" opacity="0.22"/>
<circle cx="314.3" cy="114.1" r="1.00" fill="#393d47" opacity="0.19"/>
<circle cx="318.8" cy="102.3" r="0.73" fill="#393d47" opacity="0.38"/>
<circle cx="291.5" cy="100.2" r="1.10" fill="#393d47" opacity="0.21"/>
<circle cx="319.4" cy="129.2" r="0.66" fill="#393d47" opacity="0.18"/>
<circle cx="313.8" cy="111.2" r="1.03" fill="#393d47" opacity="0.30"/>
<circle cx="321.7" cy="125.0" r="0.79" fill="#393d47" opacity="0.21"/>
<circle cx="309.4" cy="107.5" r="1.03" fill="#393d47" opacity="0.36"/>
<circle cx="297.2" cy="112.9" r="1.17" fill="#393d47" opacity="0.32"/>
<circle cx="298.0" cy="113.2" r="0.74" fill="#393d47" opacity="0.17"/>
<circle cx="313.2" cy="129.8" r="1.11" fill="#393d47" opacity="0.27"/>
<circle cx="285.6" cy="117.7" r="1.11" fill="#393d47" opacity="0.17"/>
<circle cx="284.9" cy="102.9" r="1.17" fill="#393d47" opacity="0.25"/>
</g>
<rect x="282.2" y="98.1" width="48.10" height="34.70" fill="url(#vg)" opacity="0.6"/>
<rect x="282.59999999999997" y="98.5" width="47.30" height="33.90" fill="none" stroke="#6f737c" stroke-width="0.8" opacity="0.8"/>
</g>
<g clip-path="url(#c20)">
<rect x="334.0" y="58.0" width="48.00" height="36.20" fill="#7e838d"/>
<ellipse cx="341" cy="80" rx="7" ry="10" fill="#9a9fa8" opacity="0.6" filter="url(#bl3)"/>
<rect x="334.0" y="58.0" width="48.00" height="36.20" fill="none" filter="url(#nz1)" opacity="0.3" style="fill:#000"/>
<rect x="334.0" y="58.0" width="48.00" height="36.20" fill="url(#vgd)"/>
<g filter="url(#bld)" fill="#15171d">
<ellipse cx="346" cy="66" rx="3.0" ry="3.4" opacity="0.7"/>
<ellipse cx="343" cy="71" rx="2.8" ry="2.2" opacity="0.65"/>
<ellipse cx="350" cy="70" rx="3.2" ry="2.8" opacity="0.75"/>
<ellipse cx="358.3" cy="66.5" rx="4.0" ry="3.0" opacity="0.85"/>
<ellipse cx="362" cy="70" rx="4.2" ry="3.4" opacity="0.85"/>
<ellipse cx="366.5" cy="71.5" rx="3.8" ry="3.4" opacity="0.75"/>
<ellipse cx="356" cy="76" rx="7.2" ry="6.2" opacity="0.95"/>
<ellipse cx="352" cy="82" rx="5.6" ry="4.8" opacity="0.9"/>
<ellipse cx="360" cy="82" rx="6.2" ry="4.3" opacity="0.9"/>
<ellipse cx="368" cy="77" rx="4.3" ry="3.8" opacity="0.75"/>
<ellipse cx="372" cy="80" rx="3.0" ry="2.6" opacity="0.65"/>
<ellipse cx="349" cy="86.5" rx="3.0" ry="2.4" opacity="0.8"/>
<ellipse cx="357" cy="88" rx="3.8" ry="2.3" opacity="0.8"/>
<ellipse cx="366" cy="86" rx="3.3" ry="2.3" opacity="0.8"/>
<ellipse cx="345.5" cy="79" rx="2.4" ry="2.4" opacity="0.7"/>
</g>
<ellipse cx="349.5" cy="73.2" rx="1.8" ry="1.5" fill="#b5b9c0" opacity="0.8" filter="url(#bl2)"/>
<ellipse cx="355" cy="72" rx="1.2" ry="1.0" fill="#8d919a" opacity="0.7" filter="url(#bl2)"/>
<rect x="334.4" y="58.4" width="47.20" height="35.40" fill="none" stroke="#2a2c33" stroke-width="0.8" opacity="0.7"/>
</g>
<g clip-path="url(#c21)">
<rect x="334.0" y="98.1" width="48.00" height="34.70" fill="#9ea2ac"/>
<rect x="334.0" y="98.1" width="48.00" height="34.70" fill="none" filter="url(#nz1)" opacity="0.3" style="fill:#000"/>
<rect x="334.0" y="98.1" width="48.00" height="34.70" fill="url(#vg)"/>
<g filter="url(#bld)" fill="#14161c">
<ellipse cx="352.7" cy="103.8" rx="3.2" ry="2.8" opacity="0.9"/>
<ellipse cx="364.4" cy="108.3" rx="7" ry="5.2" opacity="0.9"/>
<ellipse cx="372.5" cy="110.5" rx="4.5" ry="3.2" opacity="0.9"/>
<ellipse cx="359" cy="105" rx="3" ry="2.5" opacity="0.9"/>
<ellipse cx="349.2" cy="114.4" rx="4.6" ry="4.2" opacity="0.9"/>
<ellipse cx="340.8" cy="121.5" rx="6" ry="7.6" opacity="0.9"/>
<ellipse cx="346" cy="124" rx="3.5" ry="4" opacity="0.9"/>
<ellipse cx="361.4" cy="124.5" rx="7" ry="5.6" opacity="0.9"/>
<ellipse cx="374.5" cy="125" rx="5.4" ry="4.2" opacity="0.9"/>
<ellipse cx="368" cy="126" rx="3" ry="3" opacity="0.9"/>
<ellipse cx="355" cy="119" rx="2.2" ry="1.8" opacity="0.9"/>
</g>
<circle cx="345.2" cy="106.2" r="1.4" fill="#3a3d45" opacity="0.6" filter="url(#bl2)"/>
<rect x="334.4" y="98.5" width="47.20" height="33.90" fill="none" stroke="#4a4d55" stroke-width="0.8" opacity="0.7"/>
</g>
<line x1="437.95" y1="21.18999999999999" x2="437.95" y2="133.39999999999998" stroke="#231f20" stroke-width="1.4"/>
<line x1="437.25" y1="132.7" x2="494.7" y2="132.7" stroke="#231f20" stroke-width="1.4"/>
<line x1="434.95" y1="23.58999999999999" x2="437.95" y2="23.58999999999999" stroke="#231f20" stroke-width="1.4"/>
<text x="432.05" y="26.43999999999999" font-size="8.0" text-anchor="end" fill="#231f20" textLength="8.6" lengthAdjust="spacingAndGlyphs">30</text>
<line x1="434.95" y1="59.959999999999994" x2="437.95" y2="59.959999999999994" stroke="#231f20" stroke-width="1.4"/>
<text x="432.05" y="62.809999999999995" font-size="8.0" text-anchor="end" fill="#231f20" textLength="8.6" lengthAdjust="spacingAndGlyphs">20</text>
<line x1="434.95" y1="96.32999999999998" x2="437.95" y2="96.32999999999998" stroke="#231f20" stroke-width="1.4"/>
<text x="432.05" y="99.17999999999998" font-size="8.0" text-anchor="end" fill="#231f20" textLength="8.6" lengthAdjust="spacingAndGlyphs">10</text>
<line x1="434.95" y1="132.7" x2="437.95" y2="132.7" stroke="#231f20" stroke-width="1.4"/>
<text x="432.05" y="135.54999999999998" font-size="8.0" text-anchor="end" fill="#231f20" textLength="4.3" lengthAdjust="spacingAndGlyphs">0</text>
<line x1="454" y1="132.7" x2="454" y2="135.7" stroke="#231f20" stroke-width="1.4"/>
<line x1="478.5" y1="132.7" x2="478.5" y2="135.7" stroke="#231f20" stroke-width="1.4"/>
<circle cx="454" cy="45.6" r="2.25" fill="#25497a" stroke="#152a47" stroke-width="0.9"/>
<circle cx="454" cy="63.4" r="2.25" fill="#25497a" stroke="#152a47" stroke-width="0.9"/>
<circle cx="454" cy="68.7" r="2.25" fill="#25497a" stroke="#152a47" stroke-width="0.9"/>
<circle cx="454" cy="73.8" r="2.25" fill="#25497a" stroke="#152a47" stroke-width="0.9"/>
<circle cx="448.2" cy="82.3" r="2.25" fill="#25497a" stroke="#152a47" stroke-width="0.9"/>
<circle cx="454" cy="85.9" r="2.25" fill="#25497a" stroke="#152a47" stroke-width="0.9"/>
<circle cx="460.1" cy="95.8" r="2.25" fill="#25497a" stroke="#152a47" stroke-width="0.9"/>
<circle cx="448.2" cy="98.1" r="2.25" fill="#25497a" stroke="#152a47" stroke-width="0.9"/>
<circle cx="460.1" cy="100.5" r="2.25" fill="#25497a" stroke="#152a47" stroke-width="0.9"/>
<circle cx="454" cy="101.9" r="2.25" fill="#25497a" stroke="#152a47" stroke-width="0.9"/>
<circle cx="460.1" cy="105.5" r="2.25" fill="#25497a" stroke="#152a47" stroke-width="0.9"/>
<circle cx="448.2" cy="109" r="2.25" fill="#25497a" stroke="#152a47" stroke-width="0.9"/>
<circle cx="484.4" cy="65.1" r="2.25" fill="#b0112e" stroke="#700f23" stroke-width="0.9"/>
<circle cx="478.5" cy="69.1" r="2.25" fill="#b0112e" stroke="#700f23" stroke-width="0.9"/>
<circle cx="478.5" cy="73.8" r="2.25" fill="#b0112e" stroke="#700f23" stroke-width="0.9"/>
<circle cx="484.4" cy="76.6" r="2.25" fill="#b0112e" stroke="#700f23" stroke-width="0.9"/>
<circle cx="472.5" cy="79.6" r="2.25" fill="#b0112e" stroke="#700f23" stroke-width="0.9"/>
<circle cx="478.5" cy="79.6" r="2.25" fill="#b0112e" stroke="#700f23" stroke-width="0.9"/>
<circle cx="484.4" cy="86.3" r="2.25" fill="#b0112e" stroke="#700f23" stroke-width="0.9"/>
<circle cx="478.5" cy="90.8" r="2.25" fill="#b0112e" stroke="#700f23" stroke-width="0.9"/>
<circle cx="478.5" cy="96.4" r="2.25" fill="#b0112e" stroke="#700f23" stroke-width="0.9"/>
<circle cx="478.5" cy="105.5" r="2.25" fill="#b0112e" stroke="#700f23" stroke-width="0.9"/>
<circle cx="481" cy="113" r="2.25" fill="#b0112e" stroke="#700f23" stroke-width="0.9"/>
<circle cx="475.3" cy="116.3" r="2.25" fill="#b0112e" stroke="#700f23" stroke-width="0.9"/>
<line x1="446.2" y1="90.8" x2="462.1" y2="90.8" stroke="#0a0a0a" stroke-width="1.3"/>
<line x1="470.4" y1="83.3" x2="486.6" y2="83.3" stroke="#0a0a0a" stroke-width="1.3"/>
<line x1="454.7" y1="38.4" x2="477.5" y2="38.4" stroke="#111" stroke-width="1.2"/>
<text x="465.8" y="35.9" font-size="7.6" text-anchor="middle" fill="#231f20" textLength="11.5" lengthAdjust="spacingAndGlyphs">n.s.</text>
<text x="416.8" y="77.0" font-size="8.6" text-anchor="middle" fill="#231f20" textLength="78.6" lengthAdjust="spacingAndGlyphs" transform="rotate(-90 416.8 77.0)">Engraftment in BM (%)</text>
<text x="457.3" y="143.0" font-size="8.1" text-anchor="end" fill="#231f20" textLength="39" lengthAdjust="spacingAndGlyphs" transform="rotate(-45 457.3 143.0)">Scrambled</text>
<text x="481.8" y="141.6" font-size="8.1" text-anchor="end" fill="#231f20" textLength="42" lengthAdjust="spacingAndGlyphs" transform="rotate(-45 481.8 141.6)">shPIWIL4-A</text>
<line x1="47.2" y1="233.47" x2="47.2" y2="348.90000000000003" stroke="#231f20" stroke-width="1.1"/>
<line x1="46.650000000000006" y1="348.35" x2="86.5" y2="348.35" stroke="#231f20" stroke-width="1.1"/>
<line x1="44.2" y1="235.87" x2="47.2" y2="235.87" stroke="#231f20" stroke-width="1.1"/>
<text x="41.1" y="238.72" font-size="8.0" text-anchor="end" fill="#231f20" textLength="11.0" lengthAdjust="spacingAndGlyphs">0.8</text>
<line x1="44.2" y1="263.99" x2="47.2" y2="263.99" stroke="#231f20" stroke-width="1.1"/>
<text x="41.1" y="266.84000000000003" font-size="8.0" text-anchor="end" fill="#231f20" textLength="11.0" lengthAdjust="spacingAndGlyphs">0.6</text>
<line x1="44.2" y1="292.11" x2="47.2" y2="292.11" stroke="#231f20" stroke-width="1.1"/>
<text x="41.1" y="294.96000000000004" font-size="8.0" text-anchor="end" fill="#231f20" textLength="11.0" lengthAdjust="spacingAndGlyphs">0.4</text>
<line x1="44.2" y1="320.23" x2="47.2" y2="320.23" stroke="#231f20" stroke-width="1.1"/>
<text x="41.1" y="323.08000000000004" font-size="8.0" text-anchor="end" fill="#231f20" textLength="11.0" lengthAdjust="spacingAndGlyphs">0.2</text>
<line x1="44.2" y1="348.35" x2="47.2" y2="348.35" stroke="#231f20" stroke-width="1.1"/>
<text x="41.1" y="351.20000000000005" font-size="8.0" text-anchor="end" fill="#231f20" textLength="11.0" lengthAdjust="spacingAndGlyphs">0.0</text>
<line x1="58.6" y1="348.35" x2="58.6" y2="351.35" stroke="#231f20" stroke-width="1.1"/>
<line x1="75.4" y1="348.35" x2="75.4" y2="351.35" stroke="#231f20" stroke-width="1.1"/>
<circle cx="58.6" cy="264.1" r="2.15" fill="#25497a" stroke="#152a47" stroke-width="0.9"/>
<circle cx="62" cy="276.9" r="2.15" fill="#25497a" stroke="#152a47" stroke-width="0.9"/>
<circle cx="58.4" cy="281.2" r="2.15" fill="#25497a" stroke="#152a47" stroke-width="0.9"/>
<circle cx="55.3" cy="288.0" r="2.15" fill="#25497a" stroke="#152a47" stroke-width="0.9"/>
<circle cx="58.8" cy="289.3" r="2.15" fill="#25497a" stroke="#152a47" stroke-width="0.9"/>
<circle cx="58.6" cy="300.0" r="2.15" fill="#25497a" stroke="#152a47" stroke-width="0.9"/>
<circle cx="58.6" cy="309.4" r="2.15" fill="#25497a" stroke="#152a47" stroke-width="0.9"/>
<circle cx="55.3" cy="316" r="2.15" fill="#25497a" stroke="#152a47" stroke-width="0.9"/>
<circle cx="58.6" cy="314.8" r="2.15" fill="#25497a" stroke="#152a47" stroke-width="0.9"/>
<circle cx="62" cy="316" r="2.15" fill="#25497a" stroke="#152a47" stroke-width="0.9"/>
<circle cx="58.6" cy="322.9" r="2.15" fill="#25497a" stroke="#152a47" stroke-width="0.9"/>
<circle cx="58.6" cy="333" r="2.15" fill="#25497a" stroke="#152a47" stroke-width="0.9"/>
<circle cx="75.4" cy="269.6" r="2.15" fill="#b0112e" stroke="#700f23" stroke-width="0.9"/>
<circle cx="75.4" cy="276.9" r="2.15" fill="#b0112e" stroke="#700f23" stroke-width="0.9"/>
<circle cx="78.8" cy="289.2" r="2.15" fill="#b0112e" stroke="#700f23" stroke-width="0.9"/>
<circle cx="72.0" cy="293.4" r="2.15" fill="#b0112e" stroke="#700f23" stroke-width="0.9"/>
<circle cx="78.8" cy="296.2" r="2.15" fill="#b0112e" stroke="#700f23" stroke-width="0.9"/>
<circle cx="72.0" cy="300.0" r="2.15" fill="#b0112e" stroke="#700f23" stroke-width="0.9"/>
<circle cx="78.8" cy="301.9" r="2.15" fill="#b0112e" stroke="#700f23" stroke-width="0.9"/>
<circle cx="75.4" cy="308.9" r="2.15" fill="#b0112e" stroke="#700f23" stroke-width="0.9"/>
<circle cx="78.8" cy="314.8" r="2.15" fill="#b0112e" stroke="#700f23" stroke-width="0.9"/>
<circle cx="72.1" cy="318.9" r="2.15" fill="#b0112e" stroke="#700f23" stroke-width="0.9"/>
<circle cx="78.8" cy="327.6" r="2.15" fill="#b0112e" stroke="#700f23" stroke-width="0.9"/>
<circle cx="72.1" cy="331.6" r="2.15" fill="#b0112e" stroke="#700f23" stroke-width="0.9"/>
<line x1="52.9" y1="304.7" x2="64.3" y2="304.7" stroke="#0a0a0a" stroke-width="1.3"/>
<line x1="69.7" y1="301.3" x2="80.9" y2="301.3" stroke="#0a0a0a" stroke-width="1.3"/>
<text x="24.4" y="290.0" font-size="8.6" text-anchor="middle" fill="#231f20" textLength="79.8" lengthAdjust="spacingAndGlyphs" transform="rotate(-90 24.4 290.0)">GFP<tspan font-size="5.8" dy="-2.8">+</tspan><tspan dy="2.8"> CD34</tspan><tspan font-size="5.8" dy="-2.8">+</tspan><tspan dy="2.8"> CD38</tspan><tspan font-size="5.8" dy="-2.8">-</tspan><tspan dy="2.8"> (%)</tspan></text>
<text x="61.4" y="357.9" font-size="8.1" text-anchor="end" fill="#231f20" textLength="39" lengthAdjust="spacingAndGlyphs" transform="rotate(-45 61.4 357.9)">Scrambled</text>
<text x="78.1" y="357.9" font-size="8.1" text-anchor="end" fill="#231f20" textLength="42" lengthAdjust="spacingAndGlyphs" transform="rotate(-45 78.1 357.9)">shPIWIL4-A</text>
<line x1="136" y1="230.20000000000002" x2="136" y2="348.90000000000003" stroke="#231f20" stroke-width="1.1"/>
<line x1="135.45" y1="348.35" x2="175.9" y2="348.35" stroke="#231f20" stroke-width="1.1"/>
<line x1="133.0" y1="232.60000000000002" x2="136" y2="232.60000000000002" stroke="#231f20" stroke-width="1.1"/>
<text x="129.9" y="235.45000000000002" font-size="8.0" text-anchor="end" fill="#231f20" textLength="8.6" lengthAdjust="spacingAndGlyphs">25</text>
<line x1="133.0" y1="255.75000000000003" x2="136" y2="255.75000000000003" stroke="#231f20" stroke-width="1.1"/>
<text x="129.9" y="258.6" font-size="8.0" text-anchor="end" fill="#231f20" textLength="8.6" lengthAdjust="spacingAndGlyphs">20</text>
<line x1="133.0" y1="278.90000000000003" x2="136" y2="278.90000000000003" stroke="#231f20" stroke-width="1.1"/>
<text x="129.9" y="281.75000000000006" font-size="8.0" text-anchor="end" fill="#231f20" textLength="8.6" lengthAdjust="spacingAndGlyphs">15</text>
<line x1="133.0" y1="302.05" x2="136" y2="302.05" stroke="#231f20" stroke-width="1.1"/>
<text x="129.9" y="304.90000000000003" font-size="8.0" text-anchor="end" fill="#231f20" textLength="8.6" lengthAdjust="spacingAndGlyphs">10</text>
<line x1="133.0" y1="325.20000000000005" x2="136" y2="325.20000000000005" stroke="#231f20" stroke-width="1.1"/>
<text x="129.9" y="328.05000000000007" font-size="8.0" text-anchor="end" fill="#231f20" textLength="4.3" lengthAdjust="spacingAndGlyphs">5</text>
<line x1="133.0" y1="348.35" x2="136" y2="348.35" stroke="#231f20" stroke-width="1.1"/>
<text x="129.9" y="351.20000000000005" font-size="8.0" text-anchor="end" fill="#231f20" textLength="4.3" lengthAdjust="spacingAndGlyphs">0</text>
<line x1="147.3" y1="348.35" x2="147.3" y2="351.35" stroke="#231f20" stroke-width="1.1"/>
<line x1="164.6" y1="348.35" x2="164.6" y2="351.35" stroke="#231f20" stroke-width="1.1"/>
<circle cx="148.9" cy="250.7" r="2.15" fill="#25497a" stroke="#152a47" stroke-width="0.9"/>
<circle cx="146.4" cy="253.2" r="2.15" fill="#25497a" stroke="#152a47" stroke-width="0.9"/>
<circle cx="147.3" cy="259.4" r="2.15" fill="#25497a" stroke="#152a47" stroke-width="0.9"/>
<circle cx="146.4" cy="269.6" r="2.15" fill="#25497a" stroke="#152a47" stroke-width="0.9"/>
<circle cx="148.4" cy="271.6" r="2.15" fill="#25497a" stroke="#152a47" stroke-width="0.9"/>
<circle cx="144.5" cy="277" r="2.15" fill="#25497a" stroke="#152a47" stroke-width="0.9"/>
<circle cx="148.4" cy="275.4" r="2.15" fill="#25497a" stroke="#152a47" stroke-width="0.9"/>
<circle cx="146.4" cy="279.5" r="2.15" fill="#25497a" stroke="#152a47" stroke-width="0.9"/>
<circle cx="148.4" cy="281.4" r="2.15" fill="#25497a" stroke="#152a47" stroke-width="0.9"/>
<circle cx="146.4" cy="284.7" r="2.15" fill="#25497a" stroke="#152a47" stroke-width="0.9"/>
<circle cx="148.4" cy="293" r="2.15" fill="#25497a" stroke="#152a47" stroke-width="0.9"/>
<circle cx="146.4" cy="296.2" r="2.15" fill="#25497a" stroke="#152a47" stroke-width="0.9"/>
<circle cx="166.2" cy="254.5" r="2.15" fill="#b0112e" stroke="#700f23" stroke-width="0.9"/>
<circle cx="163.7" cy="257.3" r="2.15" fill="#b0112e" stroke="#700f23" stroke-width="0.9"/>
<circle cx="163.7" cy="262.2" r="2.15" fill="#b0112e" stroke="#700f23" stroke-width="0.9"/>
<circle cx="166.2" cy="266" r="2.15" fill="#b0112e" stroke="#700f23" stroke-width="0.9"/>
<circle cx="163.7" cy="268.3" r="2.15" fill="#b0112e" stroke="#700f23" stroke-width="0.9"/>
<circle cx="160.9" cy="274.5" r="2.15" fill="#b0112e" stroke="#700f23" stroke-width="0.9"/>
<circle cx="164.9" cy="276.5" r="2.15" fill="#b0112e" stroke="#700f23" stroke-width="0.9"/>
<circle cx="168.6" cy="278.2" r="2.15" fill="#b0112e" stroke="#700f23" stroke-width="0.9"/>
<circle cx="161.2" cy="280.8" r="2.15" fill="#b0112e" stroke="#700f23" stroke-width="0.9"/>
<circle cx="165.4" cy="281.9" r="2.15" fill="#b0112e" stroke="#700f23" stroke-width="0.9"/>
<circle cx="168.6" cy="284.1" r="2.15" fill="#b0112e" stroke="#700f23" stroke-width="0.9"/>
<circle cx="163.7" cy="284.7" r="2.15" fill="#b0112e" stroke="#700f23" stroke-width="0.9"/>
<circle cx="161.2" cy="288.5" r="2.15" fill="#b0112e" stroke="#700f23" stroke-width="0.9"/>
<line x1="142.3" y1="276.7" x2="153.8" y2="276.7" stroke="#0a0a0a" stroke-width="1.3"/>
<line x1="159.6" y1="279.3" x2="170.5" y2="279.3" stroke="#0a0a0a" stroke-width="1.3"/>
<text x="115.4" y="288.1" font-size="8.6" text-anchor="middle" fill="#231f20" textLength="82.0" lengthAdjust="spacingAndGlyphs" transform="rotate(-90 115.4 288.1)">GFP<tspan font-size="5.8" dy="-2.8">+</tspan><tspan dy="2.8"> CD34</tspan><tspan font-size="5.8" dy="-2.8">+</tspan><tspan dy="2.8"> CD38</tspan><tspan font-size="5.8" dy="-2.8">+</tspan><tspan dy="2.8"> (%)</tspan></text>
<text x="150.1" y="357.9" font-size="8.1" text-anchor="end" fill="#231f20" textLength="39" lengthAdjust="spacingAndGlyphs" transform="rotate(-45 150.1 357.9)">Scrambled</text>
<text x="167.3" y="357.9" font-size="8.1" text-anchor="end" fill="#231f20" textLength="42" lengthAdjust="spacingAndGlyphs" transform="rotate(-45 167.3 357.9)">shPIWIL4-A</text>
<line x1="229.4" y1="230.20000000000002" x2="229.4" y2="348.90000000000003" stroke="#231f20" stroke-width="1.1"/>
<line x1="228.85" y1="348.35" x2="270.2" y2="348.35" stroke="#231f20" stroke-width="1.1"/>
<line x1="226.4" y1="232.60000000000002" x2="229.4" y2="232.60000000000002" stroke="#231f20" stroke-width="1.1"/>
<text x="223.3" y="235.45000000000002" font-size="8.0" text-anchor="end" fill="#231f20" textLength="8.6" lengthAdjust="spacingAndGlyphs">25</text>
<line x1="226.4" y1="255.75000000000003" x2="229.4" y2="255.75000000000003" stroke="#231f20" stroke-width="1.1"/>
<text x="223.3" y="258.6" font-size="8.0" text-anchor="end" fill="#231f20" textLength="8.6" lengthAdjust="spacingAndGlyphs">20</text>
<line x1="226.4" y1="278.90000000000003" x2="229.4" y2="278.90000000000003" stroke="#231f20" stroke-width="1.1"/>
<text x="223.3" y="281.75000000000006" font-size="8.0" text-anchor="end" fill="#231f20" textLength="8.6" lengthAdjust="spacingAndGlyphs">15</text>
<line x1="226.4" y1="302.05" x2="229.4" y2="302.05" stroke="#231f20" stroke-width="1.1"/>
<text x="223.3" y="304.90000000000003" font-size="8.0" text-anchor="end" fill="#231f20" textLength="8.6" lengthAdjust="spacingAndGlyphs">10</text>
<line x1="226.4" y1="325.20000000000005" x2="229.4" y2="325.20000000000005" stroke="#231f20" stroke-width="1.1"/>
<text x="223.3" y="328.05000000000007" font-size="8.0" text-anchor="end" fill="#231f20" textLength="4.3" lengthAdjust="spacingAndGlyphs">5</text>
<line x1="226.4" y1="348.35" x2="229.4" y2="348.35" stroke="#231f20" stroke-width="1.1"/>
<text x="223.3" y="351.20000000000005" font-size="8.0" text-anchor="end" fill="#231f20" textLength="4.3" lengthAdjust="spacingAndGlyphs">0</text>
<line x1="241.3" y1="348.35" x2="241.3" y2="351.35" stroke="#231f20" stroke-width="1.1"/>
<line x1="258.8" y1="348.35" x2="258.8" y2="351.35" stroke="#231f20" stroke-width="1.1"/>
<circle cx="243.4" cy="252.9" r="2.15" fill="#25497a" stroke="#152a47" stroke-width="0.9"/>
<circle cx="239.5" cy="255.7" r="2.15" fill="#25497a" stroke="#152a47" stroke-width="0.9"/>
<circle cx="241.4" cy="260.6" r="2.15" fill="#25497a" stroke="#152a47" stroke-width="0.9"/>
<circle cx="239.5" cy="268.4" r="2.15" fill="#25497a" stroke="#152a47" stroke-width="0.9"/>
<circle cx="243.4" cy="268.4" r="2.15" fill="#25497a" stroke="#152a47" stroke-width="0.9"/>
<circle cx="241.4" cy="274.3" r="2.15" fill="#25497a" stroke="#152a47" stroke-width="0.9"/>
<circle cx="237.8" cy="285.3" r="2.15" fill="#25497a" stroke="#152a47" stroke-width="0.9"/>
<circle cx="244.7" cy="289.4" r="2.15" fill="#25497a" stroke="#152a47" stroke-width="0.9"/>
<circle cx="241.4" cy="291.9" r="2.15" fill="#25497a" stroke="#152a47" stroke-width="0.9"/>
<circle cx="241.4" cy="298.5" r="2.15" fill="#25497a" stroke="#152a47" stroke-width="0.9"/>
<circle cx="244.7" cy="301.3" r="2.15" fill="#25497a" stroke="#152a47" stroke-width="0.9"/>
<circle cx="237.8" cy="302.6" r="2.15" fill="#25497a" stroke="#152a47" stroke-width="0.9"/>
<circle cx="262.5" cy="255.7" r="2.15" fill="#b0112e" stroke="#700f23" stroke-width="0.9"/>
<circle cx="258.7" cy="259" r="2.15" fill="#b0112e" stroke="#700f23" stroke-width="0.9"/>
<circle cx="255.4" cy="266.1" r="2.15" fill="#b0112e" stroke="#700f23" stroke-width="0.9"/>
<circle cx="262.5" cy="265.6" r="2.15" fill="#b0112e" stroke="#700f23" stroke-width="0.9"/>
<circle cx="258.7" cy="269.7" r="2.15" fill="#b0112e" stroke="#700f23" stroke-width="0.9"/>
<circle cx="255.4" cy="271.3" r="2.15" fill="#b0112e" stroke="#700f23" stroke-width="0.9"/>
<circle cx="262" cy="277.1" r="2.15" fill="#b0112e" stroke="#700f23" stroke-width="0.9"/>
<circle cx="258.7" cy="279.5" r="2.15" fill="#b0112e" stroke="#700f23" stroke-width="0.9"/>
<circle cx="255.4" cy="287.8" r="2.15" fill="#b0112e" stroke="#700f23" stroke-width="0.9"/>
<circle cx="258.7" cy="289.1" r="2.15" fill="#b0112e" stroke="#700f23" stroke-width="0.9"/>
<circle cx="262.5" cy="291.1" r="2.15" fill="#b0112e" stroke="#700f23" stroke-width="0.9"/>
<circle cx="255.4" cy="295.2" r="2.15" fill="#b0112e" stroke="#700f23" stroke-width="0.9"/>
<line x1="235.7" y1="280" x2="246.9" y2="280" stroke="#0a0a0a" stroke-width="1.3"/>
<line x1="253" y1="274.6" x2="264.5" y2="274.6" stroke="#0a0a0a" stroke-width="1.3"/>
<text x="205.2" y="289.4" font-size="8.6" text-anchor="middle" fill="#231f20" textLength="55.7" lengthAdjust="spacingAndGlyphs" transform="rotate(-90 205.2 289.4)">GFP<tspan font-size="5.8" dy="-2.8">+</tspan><tspan dy="2.8"> CD33</tspan><tspan font-size="5.8" dy="-2.8">+</tspan><tspan dy="2.8"> (%)</tspan></text>
<text x="244.1" y="357.9" font-size="8.1" text-anchor="end" fill="#231f20" textLength="39" lengthAdjust="spacingAndGlyphs" transform="rotate(-45 244.1 357.9)">Scrambled</text>
<text x="261.5" y="357.9" font-size="8.1" text-anchor="end" fill="#231f20" textLength="42" lengthAdjust="spacingAndGlyphs" transform="rotate(-45 261.5 357.9)">shPIWIL4-A</text>
<line x1="319.4" y1="230.00000000000003" x2="319.4" y2="348.90000000000003" stroke="#231f20" stroke-width="1.1"/>
<line x1="318.84999999999997" y1="348.35" x2="360.3" y2="348.35" stroke="#231f20" stroke-width="1.1"/>
<line x1="316.4" y1="232.40000000000003" x2="319.4" y2="232.40000000000003" stroke="#231f20" stroke-width="1.1"/>
<text x="313.29999999999995" y="235.25000000000003" font-size="8.0" text-anchor="end" fill="#231f20" textLength="8.6" lengthAdjust="spacingAndGlyphs">75</text>
<line x1="316.4" y1="251.72500000000002" x2="319.4" y2="251.72500000000002" stroke="#231f20" stroke-width="1.1"/>
<text x="313.29999999999995" y="254.57500000000002" font-size="8.0" text-anchor="end" fill="#231f20" textLength="8.6" lengthAdjust="spacingAndGlyphs">70</text>
<line x1="316.4" y1="271.05" x2="319.4" y2="271.05" stroke="#231f20" stroke-width="1.1"/>
<text x="313.29999999999995" y="273.90000000000003" font-size="8.0" text-anchor="end" fill="#231f20" textLength="8.6" lengthAdjust="spacingAndGlyphs">65</text>
<line x1="316.4" y1="290.375" x2="319.4" y2="290.375" stroke="#231f20" stroke-width="1.1"/>
<text x="313.29999999999995" y="293.225" font-size="8.0" text-anchor="end" fill="#231f20" textLength="8.6" lengthAdjust="spacingAndGlyphs">60</text>
<line x1="316.4" y1="309.70000000000005" x2="319.4" y2="309.70000000000005" stroke="#231f20" stroke-width="1.1"/>
<text x="313.29999999999995" y="312.55000000000007" font-size="8.0" text-anchor="end" fill="#231f20" textLength="8.6" lengthAdjust="spacingAndGlyphs">55</text>
<line x1="316.4" y1="329.02500000000003" x2="319.4" y2="329.02500000000003" stroke="#231f20" stroke-width="1.1"/>
<text x="313.29999999999995" y="331.87500000000006" font-size="8.0" text-anchor="end" fill="#231f20" textLength="8.6" lengthAdjust="spacingAndGlyphs">50</text>
<line x1="316.4" y1="348.35" x2="319.4" y2="348.35" stroke="#231f20" stroke-width="1.1"/>
<text x="313.29999999999995" y="351.20000000000005" font-size="8.0" text-anchor="end" fill="#231f20" textLength="8.6" lengthAdjust="spacingAndGlyphs">45</text>
<line x1="331.4" y1="348.35" x2="331.4" y2="351.35" stroke="#231f20" stroke-width="1.1"/>
<line x1="348.8" y1="348.35" x2="348.8" y2="351.35" stroke="#231f20" stroke-width="1.1"/>
<circle cx="331.4" cy="258.5" r="2.15" fill="#25497a" stroke="#152a47" stroke-width="0.9"/>
<circle cx="328.9" cy="270.6" r="2.15" fill="#25497a" stroke="#152a47" stroke-width="0.9"/>
<circle cx="333" cy="270.2" r="2.15" fill="#25497a" stroke="#152a47" stroke-width="0.9"/>
<circle cx="329.5" cy="291.0" r="2.15" fill="#25497a" stroke="#152a47" stroke-width="0.9"/>
<circle cx="333.1" cy="289.4" r="2.15" fill="#25497a" stroke="#152a47" stroke-width="0.9"/>
<circle cx="334.6" cy="297.6" r="2.15" fill="#25497a" stroke="#152a47" stroke-width="0.9"/>
<circle cx="331.4" cy="300.9" r="2.15" fill="#25497a" stroke="#152a47" stroke-width="0.9"/>
<circle cx="327.5" cy="311" r="2.15" fill="#25497a" stroke="#152a47" stroke-width="0.9"/>
<circle cx="331.4" cy="310.4" r="2.15" fill="#25497a" stroke="#152a47" stroke-width="0.9"/>
<circle cx="334.6" cy="311.8" r="2.15" fill="#25497a" stroke="#152a47" stroke-width="0.9"/>
<circle cx="331.4" cy="320.9" r="2.15" fill="#25497a" stroke="#152a47" stroke-width="0.9"/>
<circle cx="331.4" cy="328.6" r="2.15" fill="#25497a" stroke="#152a47" stroke-width="0.9"/>
<circle cx="348.8" cy="253.8" r="2.15" fill="#b0112e" stroke="#700f23" stroke-width="0.9"/>
<circle cx="348.8" cy="261.1" r="2.15" fill="#b0112e" stroke="#700f23" stroke-width="0.9"/>
<circle cx="345.1" cy="269.2" r="2.15" fill="#b0112e" stroke="#700f23" stroke-width="0.9"/>
<circle cx="352.4" cy="267.2" r="2.15" fill="#b0112e" stroke="#700f23" stroke-width="0.9"/>
<circle cx="348.8" cy="275.7" r="2.15" fill="#b0112e" stroke="#700f23" stroke-width="0.9"/>
<circle cx="348.8" cy="285.4" r="2.15" fill="#b0112e" stroke="#700f23" stroke-width="0.9"/>
<circle cx="348.8" cy="295.8" r="2.15" fill="#b0112e" stroke="#700f23" stroke-width="0.9"/>
<circle cx="348.8" cy="302.3" r="2.15" fill="#b0112e" stroke="#700f23" stroke-width="0.9"/>
<circle cx="348.8" cy="307.3" r="2.15" fill="#b0112e" stroke="#700f23" stroke-width="0.9"/>
<circle cx="348.8" cy="313.4" r="2.15" fill="#b0112e" stroke="#700f23" stroke-width="0.9"/>
<circle cx="345.1" cy="328.2" r="2.15" fill="#b0112e" stroke="#700f23" stroke-width="0.9"/>
<circle cx="352.4" cy="327.6" r="2.15" fill="#b0112e" stroke="#700f23" stroke-width="0.9"/>
<line x1="325.5" y1="299.6" x2="337" y2="299.6" stroke="#0a0a0a" stroke-width="1.3"/>
<line x1="343.1" y1="290.8" x2="354.4" y2="290.8" stroke="#0a0a0a" stroke-width="1.3"/>
<text x="299.2" y="289.4" font-size="8.6" text-anchor="middle" fill="#231f20" textLength="55.7" lengthAdjust="spacingAndGlyphs" transform="rotate(-90 299.2 289.4)">GFP<tspan font-size="5.8" dy="-2.8">+</tspan><tspan dy="2.8"> CD19</tspan><tspan font-size="5.8" dy="-2.8">+</tspan><tspan dy="2.8"> (%)</tspan></text>
<text x="334.2" y="357.9" font-size="8.1" text-anchor="end" fill="#231f20" textLength="39" lengthAdjust="spacingAndGlyphs" transform="rotate(-45 334.2 357.9)">Scrambled</text>
<text x="351.5" y="357.9" font-size="8.1" text-anchor="end" fill="#231f20" textLength="42" lengthAdjust="spacingAndGlyphs" transform="rotate(-45 351.5 357.9)">shPIWIL4-A</text>
<line x1="419.6" y1="237.39999999999995" x2="419.6" y2="348.95" stroke="#231f20" stroke-width="1.1"/>
<line x1="419.05" y1="348.4" x2="507.4" y2="348.4" stroke="#231f20" stroke-width="1.1"/>
<line x1="416.6" y1="239.79999999999995" x2="419.6" y2="239.79999999999995" stroke="#231f20" stroke-width="1.1"/>
<text x="413.3" y="242.64999999999995" font-size="8.0" text-anchor="end" fill="#231f20" textLength="12.2" lengthAdjust="spacingAndGlyphs">100</text>
<line x1="416.6" y1="261.52" x2="419.6" y2="261.52" stroke="#231f20" stroke-width="1.1"/>
<text x="413.3" y="264.37" font-size="8.0" text-anchor="end" fill="#231f20" textLength="8.6" lengthAdjust="spacingAndGlyphs">80</text>
<line x1="416.6" y1="283.23999999999995" x2="419.6" y2="283.23999999999995" stroke="#231f20" stroke-width="1.1"/>
<text x="413.3" y="286.09" font-size="8.0" text-anchor="end" fill="#231f20" textLength="8.6" lengthAdjust="spacingAndGlyphs">60</text>
<line x1="416.6" y1="304.96" x2="419.6" y2="304.96" stroke="#231f20" stroke-width="1.1"/>
<text x="413.3" y="307.81" font-size="8.0" text-anchor="end" fill="#231f20" textLength="8.6" lengthAdjust="spacingAndGlyphs">40</text>
<line x1="416.6" y1="326.67999999999995" x2="419.6" y2="326.67999999999995" stroke="#231f20" stroke-width="1.1"/>
<text x="413.3" y="329.53" font-size="8.0" text-anchor="end" fill="#231f20" textLength="8.6" lengthAdjust="spacingAndGlyphs">20</text>
<line x1="416.6" y1="348.4" x2="419.6" y2="348.4" stroke="#231f20" stroke-width="1.1"/>
<text x="413.3" y="351.25" font-size="8.0" text-anchor="end" fill="#231f20" textLength="4.3" lengthAdjust="spacingAndGlyphs">0</text>
<line x1="440.1" y1="348.4" x2="440.1" y2="351.4" stroke="#231f20" stroke-width="1.1"/>
<line x1="486.9" y1="348.4" x2="486.9" y2="351.4" stroke="#231f20" stroke-width="1.1"/>
<rect x="425.2" y="256.9" width="11.70" height="91.50" fill="#104a86"/>
<line x1="431.04999999999995" y1="253.1" x2="431.04999999999995" y2="256.9" stroke="#3c3c3c" stroke-width="1.0"/>
<line x1="428.15" y1="253.1" x2="433.94999999999993" y2="253.1" stroke="#3c3c3c" stroke-width="1.0"/>
<rect x="443.1" y="260.9" width="11.50" height="87.50" fill="#c10628"/>
<line x1="448.85" y1="258.3" x2="448.85" y2="260.9" stroke="#3c3c3c" stroke-width="1.0"/>
<line x1="445.95000000000005" y1="258.3" x2="451.75" y2="258.3" stroke="#3c3c3c" stroke-width="1.0"/>
<rect x="472.8" y="332.4" width="11.40" height="16.00" fill="#104a86"/>
<line x1="478.5" y1="328.5" x2="478.5" y2="332.4" stroke="#3c3c3c" stroke-width="1.0"/>
<line x1="475.7" y1="328.5" x2="481.3" y2="328.5" stroke="#3c3c3c" stroke-width="1.0"/>
<rect x="490.3" y="328.2" width="11.50" height="20.20" fill="#c10628"/>
<line x1="496.05" y1="325.7" x2="496.05" y2="328.2" stroke="#3c3c3c" stroke-width="1.0"/>
<line x1="493.15000000000003" y1="325.7" x2="498.95" y2="325.7" stroke="#3c3c3c" stroke-width="1.0"/>
<text x="448.7" y="252.5" font-size="7.6" text-anchor="middle" fill="#231f20" textLength="11.7" lengthAdjust="spacingAndGlyphs">n.s.</text>
<text x="495.9" y="320.3" font-size="7.6" text-anchor="middle" fill="#231f20" textLength="11.8" lengthAdjust="spacingAndGlyphs">n.s.</text>
<text x="469.3" y="243.5" font-size="8.5" text-anchor="start" fill="#231f20" textLength="23.2" lengthAdjust="spacingAndGlyphs">(n = 4)</text>
<rect x="460.2" y="250.0" width="6.2" height="6.2" fill="#104a86"/>
<text x="469.3" y="255.8" font-size="8.5" text-anchor="start" fill="#231f20" textLength="35.9" lengthAdjust="spacingAndGlyphs">Scrambled</text>
<rect x="460.2" y="261.0" width="6.2" height="6.2" fill="#c10628"/>
<text x="469.0" y="267.0" font-size="8.5" text-anchor="start" fill="#231f20" textLength="38.9" lengthAdjust="spacingAndGlyphs">shPIWIL4-A</text>
<text x="440.1" y="361.0" font-size="8.5" text-anchor="middle" fill="#231f20" textLength="13.9" lengthAdjust="spacingAndGlyphs">Live</text>
<text x="487.1" y="361.0" font-size="8.5" text-anchor="middle" fill="#231f20" textLength="42.2" lengthAdjust="spacingAndGlyphs">Apop/Dead</text>
<text x="394.0" y="292.4" font-size="8.6" text-anchor="middle" fill="#231f20" textLength="63.3" lengthAdjust="spacingAndGlyphs" transform="rotate(-90 394.0 292.4)">Percentage of cells</text>
<rect x="0" y="0" width="520" height="1" fill="#4a4a4a"/><rect x="0" y="394" width="520" height="1.2" fill="#383838"/><rect x="0" y="0" width="1" height="395" fill="#5e5e5e"/><rect x="519" y="0" width="1" height="395" fill="#555"/>
</svg>
</body></html>
